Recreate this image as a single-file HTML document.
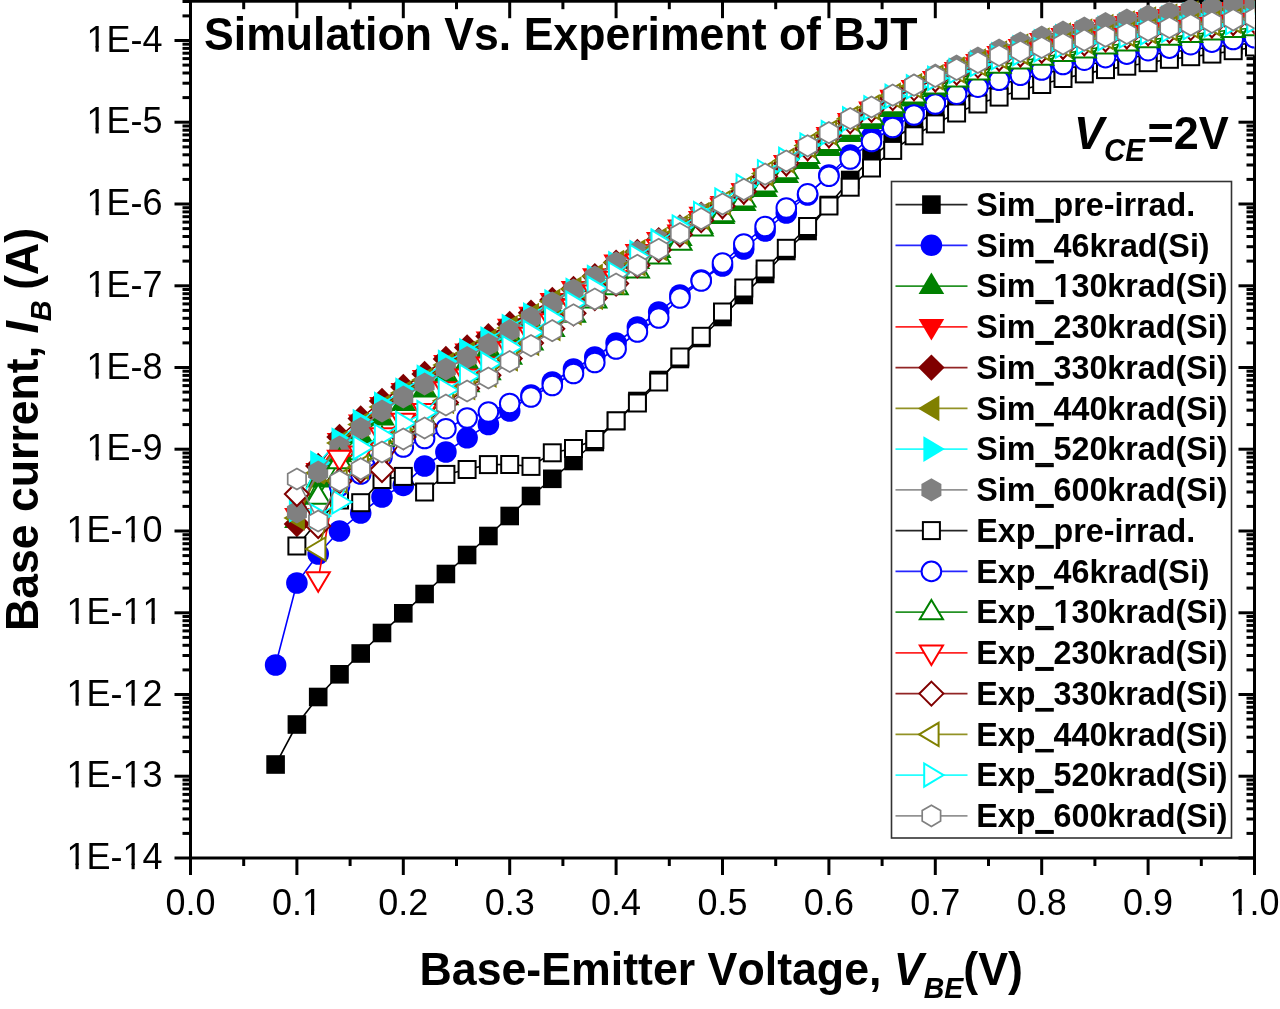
<!DOCTYPE html>
<html><head><meta charset="utf-8"><style>
html,body{margin:0;padding:0;background:#fff;}
svg{display:block;will-change:transform;-webkit-font-smoothing:antialiased;} text{font-kerning:none;}
</style></head><body>
<svg width="1280" height="1009" viewBox="0 0 1280 1009">
<rect x="0" y="0" width="1280" height="1009" fill="#fff"/>
<g stroke="#000" stroke-width="3" fill="none">
<rect x="190.5" y="1.2" width="1064.0" height="856.8"/>
<line x1="190.5" y1="858.0" x2="190.5" y2="875.0"/>
<line x1="190.5" y1="1.2" x2="190.5" y2="18.2"/>
<line x1="243.7" y1="858.0" x2="243.7" y2="866.0"/>
<line x1="243.7" y1="1.2" x2="243.7" y2="9.2"/>
<line x1="296.9" y1="858.0" x2="296.9" y2="875.0"/>
<line x1="296.9" y1="1.2" x2="296.9" y2="18.2"/>
<line x1="350.1" y1="858.0" x2="350.1" y2="866.0"/>
<line x1="350.1" y1="1.2" x2="350.1" y2="9.2"/>
<line x1="403.3" y1="858.0" x2="403.3" y2="875.0"/>
<line x1="403.3" y1="1.2" x2="403.3" y2="18.2"/>
<line x1="456.5" y1="858.0" x2="456.5" y2="866.0"/>
<line x1="456.5" y1="1.2" x2="456.5" y2="9.2"/>
<line x1="509.7" y1="858.0" x2="509.7" y2="875.0"/>
<line x1="509.7" y1="1.2" x2="509.7" y2="18.2"/>
<line x1="562.9" y1="858.0" x2="562.9" y2="866.0"/>
<line x1="562.9" y1="1.2" x2="562.9" y2="9.2"/>
<line x1="616.1" y1="858.0" x2="616.1" y2="875.0"/>
<line x1="616.1" y1="1.2" x2="616.1" y2="18.2"/>
<line x1="669.3" y1="858.0" x2="669.3" y2="866.0"/>
<line x1="669.3" y1="1.2" x2="669.3" y2="9.2"/>
<line x1="722.5" y1="858.0" x2="722.5" y2="875.0"/>
<line x1="722.5" y1="1.2" x2="722.5" y2="18.2"/>
<line x1="775.7" y1="858.0" x2="775.7" y2="866.0"/>
<line x1="775.7" y1="1.2" x2="775.7" y2="9.2"/>
<line x1="828.9" y1="858.0" x2="828.9" y2="875.0"/>
<line x1="828.9" y1="1.2" x2="828.9" y2="18.2"/>
<line x1="882.1" y1="858.0" x2="882.1" y2="866.0"/>
<line x1="882.1" y1="1.2" x2="882.1" y2="9.2"/>
<line x1="935.3" y1="858.0" x2="935.3" y2="875.0"/>
<line x1="935.3" y1="1.2" x2="935.3" y2="18.2"/>
<line x1="988.5" y1="858.0" x2="988.5" y2="866.0"/>
<line x1="988.5" y1="1.2" x2="988.5" y2="9.2"/>
<line x1="1041.7" y1="858.0" x2="1041.7" y2="875.0"/>
<line x1="1041.7" y1="1.2" x2="1041.7" y2="18.2"/>
<line x1="1094.9" y1="858.0" x2="1094.9" y2="866.0"/>
<line x1="1094.9" y1="1.2" x2="1094.9" y2="9.2"/>
<line x1="1148.1" y1="858.0" x2="1148.1" y2="875.0"/>
<line x1="1148.1" y1="1.2" x2="1148.1" y2="18.2"/>
<line x1="1201.3" y1="858.0" x2="1201.3" y2="866.0"/>
<line x1="1201.3" y1="1.2" x2="1201.3" y2="9.2"/>
<line x1="1254.5" y1="858.0" x2="1254.5" y2="875.0"/>
<line x1="1254.5" y1="1.2" x2="1254.5" y2="18.2"/>
<line x1="174.5" y1="858.0" x2="190.5" y2="858.0"/>
<line x1="1254.5" y1="858.0" x2="1238.5" y2="858.0"/>
<line x1="182.5" y1="833.4" x2="190.5" y2="833.4"/>
<line x1="1254.5" y1="833.4" x2="1246.5" y2="833.4"/>
<line x1="182.5" y1="819.0" x2="190.5" y2="819.0"/>
<line x1="1254.5" y1="819.0" x2="1246.5" y2="819.0"/>
<line x1="182.5" y1="808.8" x2="190.5" y2="808.8"/>
<line x1="1254.5" y1="808.8" x2="1246.5" y2="808.8"/>
<line x1="182.5" y1="800.9" x2="190.5" y2="800.9"/>
<line x1="1254.5" y1="800.9" x2="1246.5" y2="800.9"/>
<line x1="182.5" y1="794.4" x2="190.5" y2="794.4"/>
<line x1="1254.5" y1="794.4" x2="1246.5" y2="794.4"/>
<line x1="182.5" y1="788.9" x2="190.5" y2="788.9"/>
<line x1="1254.5" y1="788.9" x2="1246.5" y2="788.9"/>
<line x1="182.5" y1="784.2" x2="190.5" y2="784.2"/>
<line x1="1254.5" y1="784.2" x2="1246.5" y2="784.2"/>
<line x1="182.5" y1="780.0" x2="190.5" y2="780.0"/>
<line x1="1254.5" y1="780.0" x2="1246.5" y2="780.0"/>
<line x1="174.5" y1="776.2" x2="190.5" y2="776.2"/>
<line x1="1254.5" y1="776.2" x2="1238.5" y2="776.2"/>
<line x1="182.5" y1="751.6" x2="190.5" y2="751.6"/>
<line x1="1254.5" y1="751.6" x2="1246.5" y2="751.6"/>
<line x1="182.5" y1="737.2" x2="190.5" y2="737.2"/>
<line x1="1254.5" y1="737.2" x2="1246.5" y2="737.2"/>
<line x1="182.5" y1="727.0" x2="190.5" y2="727.0"/>
<line x1="1254.5" y1="727.0" x2="1246.5" y2="727.0"/>
<line x1="182.5" y1="719.1" x2="190.5" y2="719.1"/>
<line x1="1254.5" y1="719.1" x2="1246.5" y2="719.1"/>
<line x1="182.5" y1="712.6" x2="190.5" y2="712.6"/>
<line x1="1254.5" y1="712.6" x2="1246.5" y2="712.6"/>
<line x1="182.5" y1="707.2" x2="190.5" y2="707.2"/>
<line x1="1254.5" y1="707.2" x2="1246.5" y2="707.2"/>
<line x1="182.5" y1="702.4" x2="190.5" y2="702.4"/>
<line x1="1254.5" y1="702.4" x2="1246.5" y2="702.4"/>
<line x1="182.5" y1="698.2" x2="190.5" y2="698.2"/>
<line x1="1254.5" y1="698.2" x2="1246.5" y2="698.2"/>
<line x1="174.5" y1="694.5" x2="190.5" y2="694.5"/>
<line x1="1254.5" y1="694.5" x2="1238.5" y2="694.5"/>
<line x1="182.5" y1="669.9" x2="190.5" y2="669.9"/>
<line x1="1254.5" y1="669.9" x2="1246.5" y2="669.9"/>
<line x1="182.5" y1="655.5" x2="190.5" y2="655.5"/>
<line x1="1254.5" y1="655.5" x2="1246.5" y2="655.5"/>
<line x1="182.5" y1="645.3" x2="190.5" y2="645.3"/>
<line x1="1254.5" y1="645.3" x2="1246.5" y2="645.3"/>
<line x1="182.5" y1="637.4" x2="190.5" y2="637.4"/>
<line x1="1254.5" y1="637.4" x2="1246.5" y2="637.4"/>
<line x1="182.5" y1="630.9" x2="190.5" y2="630.9"/>
<line x1="1254.5" y1="630.9" x2="1246.5" y2="630.9"/>
<line x1="182.5" y1="625.4" x2="190.5" y2="625.4"/>
<line x1="1254.5" y1="625.4" x2="1246.5" y2="625.4"/>
<line x1="182.5" y1="620.7" x2="190.5" y2="620.7"/>
<line x1="1254.5" y1="620.7" x2="1246.5" y2="620.7"/>
<line x1="182.5" y1="616.5" x2="190.5" y2="616.5"/>
<line x1="1254.5" y1="616.5" x2="1246.5" y2="616.5"/>
<line x1="174.5" y1="612.8" x2="190.5" y2="612.8"/>
<line x1="1254.5" y1="612.8" x2="1238.5" y2="612.8"/>
<line x1="182.5" y1="588.1" x2="190.5" y2="588.1"/>
<line x1="1254.5" y1="588.1" x2="1246.5" y2="588.1"/>
<line x1="182.5" y1="573.7" x2="190.5" y2="573.7"/>
<line x1="1254.5" y1="573.7" x2="1246.5" y2="573.7"/>
<line x1="182.5" y1="563.5" x2="190.5" y2="563.5"/>
<line x1="1254.5" y1="563.5" x2="1246.5" y2="563.5"/>
<line x1="182.5" y1="555.6" x2="190.5" y2="555.6"/>
<line x1="1254.5" y1="555.6" x2="1246.5" y2="555.6"/>
<line x1="182.5" y1="549.1" x2="190.5" y2="549.1"/>
<line x1="1254.5" y1="549.1" x2="1246.5" y2="549.1"/>
<line x1="182.5" y1="543.7" x2="190.5" y2="543.7"/>
<line x1="1254.5" y1="543.7" x2="1246.5" y2="543.7"/>
<line x1="182.5" y1="538.9" x2="190.5" y2="538.9"/>
<line x1="1254.5" y1="538.9" x2="1246.5" y2="538.9"/>
<line x1="182.5" y1="534.7" x2="190.5" y2="534.7"/>
<line x1="1254.5" y1="534.7" x2="1246.5" y2="534.7"/>
<line x1="174.5" y1="531.0" x2="190.5" y2="531.0"/>
<line x1="1254.5" y1="531.0" x2="1238.5" y2="531.0"/>
<line x1="182.5" y1="506.4" x2="190.5" y2="506.4"/>
<line x1="1254.5" y1="506.4" x2="1246.5" y2="506.4"/>
<line x1="182.5" y1="492.0" x2="190.5" y2="492.0"/>
<line x1="1254.5" y1="492.0" x2="1246.5" y2="492.0"/>
<line x1="182.5" y1="481.8" x2="190.5" y2="481.8"/>
<line x1="1254.5" y1="481.8" x2="1246.5" y2="481.8"/>
<line x1="182.5" y1="473.9" x2="190.5" y2="473.9"/>
<line x1="1254.5" y1="473.9" x2="1246.5" y2="473.9"/>
<line x1="182.5" y1="467.4" x2="190.5" y2="467.4"/>
<line x1="1254.5" y1="467.4" x2="1246.5" y2="467.4"/>
<line x1="182.5" y1="461.9" x2="190.5" y2="461.9"/>
<line x1="1254.5" y1="461.9" x2="1246.5" y2="461.9"/>
<line x1="182.5" y1="457.2" x2="190.5" y2="457.2"/>
<line x1="1254.5" y1="457.2" x2="1246.5" y2="457.2"/>
<line x1="182.5" y1="453.0" x2="190.5" y2="453.0"/>
<line x1="1254.5" y1="453.0" x2="1246.5" y2="453.0"/>
<line x1="174.5" y1="449.2" x2="190.5" y2="449.2"/>
<line x1="1254.5" y1="449.2" x2="1238.5" y2="449.2"/>
<line x1="182.5" y1="424.6" x2="190.5" y2="424.6"/>
<line x1="1254.5" y1="424.6" x2="1246.5" y2="424.6"/>
<line x1="182.5" y1="410.2" x2="190.5" y2="410.2"/>
<line x1="1254.5" y1="410.2" x2="1246.5" y2="410.2"/>
<line x1="182.5" y1="400.0" x2="190.5" y2="400.0"/>
<line x1="1254.5" y1="400.0" x2="1246.5" y2="400.0"/>
<line x1="182.5" y1="392.1" x2="190.5" y2="392.1"/>
<line x1="1254.5" y1="392.1" x2="1246.5" y2="392.1"/>
<line x1="182.5" y1="385.6" x2="190.5" y2="385.6"/>
<line x1="1254.5" y1="385.6" x2="1246.5" y2="385.6"/>
<line x1="182.5" y1="380.2" x2="190.5" y2="380.2"/>
<line x1="1254.5" y1="380.2" x2="1246.5" y2="380.2"/>
<line x1="182.5" y1="375.4" x2="190.5" y2="375.4"/>
<line x1="1254.5" y1="375.4" x2="1246.5" y2="375.4"/>
<line x1="182.5" y1="371.2" x2="190.5" y2="371.2"/>
<line x1="1254.5" y1="371.2" x2="1246.5" y2="371.2"/>
<line x1="174.5" y1="367.5" x2="190.5" y2="367.5"/>
<line x1="1254.5" y1="367.5" x2="1238.5" y2="367.5"/>
<line x1="182.5" y1="342.9" x2="190.5" y2="342.9"/>
<line x1="1254.5" y1="342.9" x2="1246.5" y2="342.9"/>
<line x1="182.5" y1="328.5" x2="190.5" y2="328.5"/>
<line x1="1254.5" y1="328.5" x2="1246.5" y2="328.5"/>
<line x1="182.5" y1="318.3" x2="190.5" y2="318.3"/>
<line x1="1254.5" y1="318.3" x2="1246.5" y2="318.3"/>
<line x1="182.5" y1="310.4" x2="190.5" y2="310.4"/>
<line x1="1254.5" y1="310.4" x2="1246.5" y2="310.4"/>
<line x1="182.5" y1="303.9" x2="190.5" y2="303.9"/>
<line x1="1254.5" y1="303.9" x2="1246.5" y2="303.9"/>
<line x1="182.5" y1="298.4" x2="190.5" y2="298.4"/>
<line x1="1254.5" y1="298.4" x2="1246.5" y2="298.4"/>
<line x1="182.5" y1="293.7" x2="190.5" y2="293.7"/>
<line x1="1254.5" y1="293.7" x2="1246.5" y2="293.7"/>
<line x1="182.5" y1="289.5" x2="190.5" y2="289.5"/>
<line x1="1254.5" y1="289.5" x2="1246.5" y2="289.5"/>
<line x1="174.5" y1="285.8" x2="190.5" y2="285.8"/>
<line x1="1254.5" y1="285.8" x2="1238.5" y2="285.8"/>
<line x1="182.5" y1="261.1" x2="190.5" y2="261.1"/>
<line x1="1254.5" y1="261.1" x2="1246.5" y2="261.1"/>
<line x1="182.5" y1="246.7" x2="190.5" y2="246.7"/>
<line x1="1254.5" y1="246.7" x2="1246.5" y2="246.7"/>
<line x1="182.5" y1="236.5" x2="190.5" y2="236.5"/>
<line x1="1254.5" y1="236.5" x2="1246.5" y2="236.5"/>
<line x1="182.5" y1="228.6" x2="190.5" y2="228.6"/>
<line x1="1254.5" y1="228.6" x2="1246.5" y2="228.6"/>
<line x1="182.5" y1="222.1" x2="190.5" y2="222.1"/>
<line x1="1254.5" y1="222.1" x2="1246.5" y2="222.1"/>
<line x1="182.5" y1="216.7" x2="190.5" y2="216.7"/>
<line x1="1254.5" y1="216.7" x2="1246.5" y2="216.7"/>
<line x1="182.5" y1="211.9" x2="190.5" y2="211.9"/>
<line x1="1254.5" y1="211.9" x2="1246.5" y2="211.9"/>
<line x1="182.5" y1="207.7" x2="190.5" y2="207.7"/>
<line x1="1254.5" y1="207.7" x2="1246.5" y2="207.7"/>
<line x1="174.5" y1="204.0" x2="190.5" y2="204.0"/>
<line x1="1254.5" y1="204.0" x2="1238.5" y2="204.0"/>
<line x1="182.5" y1="179.4" x2="190.5" y2="179.4"/>
<line x1="1254.5" y1="179.4" x2="1246.5" y2="179.4"/>
<line x1="182.5" y1="165.0" x2="190.5" y2="165.0"/>
<line x1="1254.5" y1="165.0" x2="1246.5" y2="165.0"/>
<line x1="182.5" y1="154.8" x2="190.5" y2="154.8"/>
<line x1="1254.5" y1="154.8" x2="1246.5" y2="154.8"/>
<line x1="182.5" y1="146.9" x2="190.5" y2="146.9"/>
<line x1="1254.5" y1="146.9" x2="1246.5" y2="146.9"/>
<line x1="182.5" y1="140.4" x2="190.5" y2="140.4"/>
<line x1="1254.5" y1="140.4" x2="1246.5" y2="140.4"/>
<line x1="182.5" y1="134.9" x2="190.5" y2="134.9"/>
<line x1="1254.5" y1="134.9" x2="1246.5" y2="134.9"/>
<line x1="182.5" y1="130.2" x2="190.5" y2="130.2"/>
<line x1="1254.5" y1="130.2" x2="1246.5" y2="130.2"/>
<line x1="182.5" y1="126.0" x2="190.5" y2="126.0"/>
<line x1="1254.5" y1="126.0" x2="1246.5" y2="126.0"/>
<line x1="174.5" y1="122.2" x2="190.5" y2="122.2"/>
<line x1="1254.5" y1="122.2" x2="1238.5" y2="122.2"/>
<line x1="182.5" y1="97.6" x2="190.5" y2="97.6"/>
<line x1="1254.5" y1="97.6" x2="1246.5" y2="97.6"/>
<line x1="182.5" y1="83.2" x2="190.5" y2="83.2"/>
<line x1="1254.5" y1="83.2" x2="1246.5" y2="83.2"/>
<line x1="182.5" y1="73.0" x2="190.5" y2="73.0"/>
<line x1="1254.5" y1="73.0" x2="1246.5" y2="73.0"/>
<line x1="182.5" y1="65.1" x2="190.5" y2="65.1"/>
<line x1="1254.5" y1="65.1" x2="1246.5" y2="65.1"/>
<line x1="182.5" y1="58.6" x2="190.5" y2="58.6"/>
<line x1="1254.5" y1="58.6" x2="1246.5" y2="58.6"/>
<line x1="182.5" y1="53.2" x2="190.5" y2="53.2"/>
<line x1="1254.5" y1="53.2" x2="1246.5" y2="53.2"/>
<line x1="182.5" y1="48.4" x2="190.5" y2="48.4"/>
<line x1="1254.5" y1="48.4" x2="1246.5" y2="48.4"/>
<line x1="182.5" y1="44.2" x2="190.5" y2="44.2"/>
<line x1="1254.5" y1="44.2" x2="1246.5" y2="44.2"/>
<line x1="174.5" y1="40.5" x2="190.5" y2="40.5"/>
<line x1="1254.5" y1="40.5" x2="1238.5" y2="40.5"/>
<line x1="182.5" y1="15.9" x2="190.5" y2="15.9"/>
<line x1="1254.5" y1="15.9" x2="1246.5" y2="15.9"/>
<line x1="182.5" y1="1.5" x2="190.5" y2="1.5"/>
<line x1="1254.5" y1="1.5" x2="1246.5" y2="1.5"/>
</g>
<defs><clipPath id="pc"><rect x="0" y="-20" width="1254.5" height="878"/></clipPath></defs>
<g clip-path="url(#pc)">
<polyline fill="none" stroke="#000000" stroke-width="1.6" points="275.6,764.5 296.9,724.5 318.2,697.0 339.5,674.3 360.7,653.5 382.0,633.0 403.3,613.3 424.6,594.0 445.9,574.0 467.1,555.0 488.4,536.0 509.7,516.0 531.0,496.0 552.3,478.8 573.5,461.0 594.8,442.0 616.1,421.0 637.4,401.0 658.7,380.0 679.9,359.0 701.2,338.0 722.5,317.0 743.8,295.0 765.1,274.0 786.3,251.0 807.6,231.0 828.9,205.0 850.2,180.0 871.5,158.0 892.7,140.0 914.0,125.0 935.3,112.0 956.6,101.0 977.9,92.0 999.1,85.0 1020.4,79.0 1041.7,74.0 1063.0,69.5 1084.3,65.0 1105.5,61.7 1126.8,58.3 1148.1,55.0 1169.4,52.3 1190.7,49.7 1211.9,47.0 1233.2,45.0 1254.5,43.0"/>
<rect x="266.3" y="755.2" width="18.6" height="18.6" fill="#000000"/>
<rect x="287.6" y="715.2" width="18.6" height="18.6" fill="#000000"/>
<rect x="308.9" y="687.7" width="18.6" height="18.6" fill="#000000"/>
<rect x="330.2" y="665.0" width="18.6" height="18.6" fill="#000000"/>
<rect x="351.4" y="644.2" width="18.6" height="18.6" fill="#000000"/>
<rect x="372.7" y="623.7" width="18.6" height="18.6" fill="#000000"/>
<rect x="394.0" y="604.0" width="18.6" height="18.6" fill="#000000"/>
<rect x="415.3" y="584.7" width="18.6" height="18.6" fill="#000000"/>
<rect x="436.6" y="564.7" width="18.6" height="18.6" fill="#000000"/>
<rect x="457.8" y="545.7" width="18.6" height="18.6" fill="#000000"/>
<rect x="479.1" y="526.7" width="18.6" height="18.6" fill="#000000"/>
<rect x="500.4" y="506.7" width="18.6" height="18.6" fill="#000000"/>
<rect x="521.7" y="486.7" width="18.6" height="18.6" fill="#000000"/>
<rect x="543.0" y="469.5" width="18.6" height="18.6" fill="#000000"/>
<rect x="564.2" y="451.7" width="18.6" height="18.6" fill="#000000"/>
<rect x="585.5" y="432.7" width="18.6" height="18.6" fill="#000000"/>
<rect x="606.8" y="411.7" width="18.6" height="18.6" fill="#000000"/>
<rect x="628.1" y="391.7" width="18.6" height="18.6" fill="#000000"/>
<rect x="649.4" y="370.7" width="18.6" height="18.6" fill="#000000"/>
<rect x="670.6" y="349.7" width="18.6" height="18.6" fill="#000000"/>
<rect x="691.9" y="328.7" width="18.6" height="18.6" fill="#000000"/>
<rect x="713.2" y="307.7" width="18.6" height="18.6" fill="#000000"/>
<rect x="734.5" y="285.7" width="18.6" height="18.6" fill="#000000"/>
<rect x="755.8" y="264.7" width="18.6" height="18.6" fill="#000000"/>
<rect x="777.0" y="241.7" width="18.6" height="18.6" fill="#000000"/>
<rect x="798.3" y="221.7" width="18.6" height="18.6" fill="#000000"/>
<rect x="819.6" y="195.7" width="18.6" height="18.6" fill="#000000"/>
<rect x="840.9" y="170.7" width="18.6" height="18.6" fill="#000000"/>
<rect x="862.2" y="148.7" width="18.6" height="18.6" fill="#000000"/>
<rect x="883.4" y="130.7" width="18.6" height="18.6" fill="#000000"/>
<rect x="904.7" y="115.7" width="18.6" height="18.6" fill="#000000"/>
<rect x="926.0" y="102.7" width="18.6" height="18.6" fill="#000000"/>
<rect x="947.3" y="91.7" width="18.6" height="18.6" fill="#000000"/>
<rect x="968.6" y="82.7" width="18.6" height="18.6" fill="#000000"/>
<rect x="989.8" y="75.7" width="18.6" height="18.6" fill="#000000"/>
<rect x="1011.1" y="69.7" width="18.6" height="18.6" fill="#000000"/>
<rect x="1032.4" y="64.7" width="18.6" height="18.6" fill="#000000"/>
<rect x="1053.7" y="60.2" width="18.6" height="18.6" fill="#000000"/>
<rect x="1075.0" y="55.7" width="18.6" height="18.6" fill="#000000"/>
<rect x="1096.2" y="52.4" width="18.6" height="18.6" fill="#000000"/>
<rect x="1117.5" y="49.0" width="18.6" height="18.6" fill="#000000"/>
<rect x="1138.8" y="45.7" width="18.6" height="18.6" fill="#000000"/>
<rect x="1160.1" y="43.0" width="18.6" height="18.6" fill="#000000"/>
<rect x="1181.4" y="40.4" width="18.6" height="18.6" fill="#000000"/>
<rect x="1202.6" y="37.7" width="18.6" height="18.6" fill="#000000"/>
<rect x="1223.9" y="35.7" width="18.6" height="18.6" fill="#000000"/>
<rect x="1245.2" y="33.7" width="18.6" height="18.6" fill="#000000"/>
<polyline fill="none" stroke="#0000ff" stroke-width="1.6" points="275.6,665.0 296.9,583.0 318.2,554.0 339.5,531.0 360.7,513.0 382.0,497.0 403.3,485.4 424.6,466.0 445.9,452.0 467.1,437.8 488.4,424.5 509.7,411.0 531.0,395.0 552.3,382.0 573.5,369.0 594.8,357.0 616.1,343.0 637.4,327.0 658.7,312.0 679.9,295.0 701.2,280.0 722.5,266.0 743.8,249.0 765.1,231.0 786.3,213.0 807.6,195.0 828.9,175.0 850.2,155.0 871.5,137.0 892.7,123.0 914.0,112.0 935.3,102.0 956.6,91.0 977.9,84.0 999.1,78.0 1020.4,72.0 1041.7,67.0 1063.0,62.5 1084.3,58.0 1105.5,54.7 1126.8,51.3 1148.1,48.0 1169.4,45.3 1190.7,42.7 1211.9,40.0 1233.2,37.5 1254.5,35.0"/>
<circle cx="275.6" cy="665.0" r="10.8" fill="#0000ff"/>
<circle cx="296.9" cy="583.0" r="10.8" fill="#0000ff"/>
<circle cx="318.2" cy="554.0" r="10.8" fill="#0000ff"/>
<circle cx="339.5" cy="531.0" r="10.8" fill="#0000ff"/>
<circle cx="360.7" cy="513.0" r="10.8" fill="#0000ff"/>
<circle cx="382.0" cy="497.0" r="10.8" fill="#0000ff"/>
<circle cx="403.3" cy="485.4" r="10.8" fill="#0000ff"/>
<circle cx="424.6" cy="466.0" r="10.8" fill="#0000ff"/>
<circle cx="445.9" cy="452.0" r="10.8" fill="#0000ff"/>
<circle cx="467.1" cy="437.8" r="10.8" fill="#0000ff"/>
<circle cx="488.4" cy="424.5" r="10.8" fill="#0000ff"/>
<circle cx="509.7" cy="411.0" r="10.8" fill="#0000ff"/>
<circle cx="531.0" cy="395.0" r="10.8" fill="#0000ff"/>
<circle cx="552.3" cy="382.0" r="10.8" fill="#0000ff"/>
<circle cx="573.5" cy="369.0" r="10.8" fill="#0000ff"/>
<circle cx="594.8" cy="357.0" r="10.8" fill="#0000ff"/>
<circle cx="616.1" cy="343.0" r="10.8" fill="#0000ff"/>
<circle cx="637.4" cy="327.0" r="10.8" fill="#0000ff"/>
<circle cx="658.7" cy="312.0" r="10.8" fill="#0000ff"/>
<circle cx="679.9" cy="295.0" r="10.8" fill="#0000ff"/>
<circle cx="701.2" cy="280.0" r="10.8" fill="#0000ff"/>
<circle cx="722.5" cy="266.0" r="10.8" fill="#0000ff"/>
<circle cx="743.8" cy="249.0" r="10.8" fill="#0000ff"/>
<circle cx="765.1" cy="231.0" r="10.8" fill="#0000ff"/>
<circle cx="786.3" cy="213.0" r="10.8" fill="#0000ff"/>
<circle cx="807.6" cy="195.0" r="10.8" fill="#0000ff"/>
<circle cx="828.9" cy="175.0" r="10.8" fill="#0000ff"/>
<circle cx="850.2" cy="155.0" r="10.8" fill="#0000ff"/>
<circle cx="871.5" cy="137.0" r="10.8" fill="#0000ff"/>
<circle cx="892.7" cy="123.0" r="10.8" fill="#0000ff"/>
<circle cx="914.0" cy="112.0" r="10.8" fill="#0000ff"/>
<circle cx="935.3" cy="102.0" r="10.8" fill="#0000ff"/>
<circle cx="956.6" cy="91.0" r="10.8" fill="#0000ff"/>
<circle cx="977.9" cy="84.0" r="10.8" fill="#0000ff"/>
<circle cx="999.1" cy="78.0" r="10.8" fill="#0000ff"/>
<circle cx="1020.4" cy="72.0" r="10.8" fill="#0000ff"/>
<circle cx="1041.7" cy="67.0" r="10.8" fill="#0000ff"/>
<circle cx="1063.0" cy="62.5" r="10.8" fill="#0000ff"/>
<circle cx="1084.3" cy="58.0" r="10.8" fill="#0000ff"/>
<circle cx="1105.5" cy="54.7" r="10.8" fill="#0000ff"/>
<circle cx="1126.8" cy="51.3" r="10.8" fill="#0000ff"/>
<circle cx="1148.1" cy="48.0" r="10.8" fill="#0000ff"/>
<circle cx="1169.4" cy="45.3" r="10.8" fill="#0000ff"/>
<circle cx="1190.7" cy="42.7" r="10.8" fill="#0000ff"/>
<circle cx="1211.9" cy="40.0" r="10.8" fill="#0000ff"/>
<circle cx="1233.2" cy="37.5" r="10.8" fill="#0000ff"/>
<circle cx="1254.5" cy="35.0" r="10.8" fill="#0000ff"/>
<polyline fill="none" stroke="#008000" stroke-width="1.6" points="296.9,520.0 318.2,479.6 339.5,454.2 360.7,435.3 382.0,417.4 403.3,403.0 424.6,389.6 445.9,374.2 467.1,362.3 488.4,349.0 509.7,334.7 531.0,322.6 552.3,308.6 573.5,296.4 594.8,284.2 616.1,271.0 637.4,261.0 658.7,250.0 679.9,238.0 701.2,226.0 722.5,216.0 743.8,203.0 765.1,189.0 786.3,175.0 807.6,161.0 828.9,148.0 850.2,134.0 871.5,121.0 892.7,109.0 914.0,98.5 935.3,89.0 956.6,81.7 977.9,75.3 999.1,69.0 1020.4,64.2 1041.7,60.5 1063.0,56.2 1084.3,52.9 1105.5,49.1 1126.8,46.3 1148.1,43.0 1169.4,40.0 1190.7,37.0 1211.9,35.0 1233.2,33.0 1254.5,31.0"/>
<polygon points="296.9,506.5 309.7,528.0 284.1,528.0" fill="#008000"/>
<polygon points="318.2,466.1 331.0,487.6 305.4,487.6" fill="#008000"/>
<polygon points="339.5,440.7 352.3,462.2 326.7,462.2" fill="#008000"/>
<polygon points="360.7,421.8 373.5,443.3 347.9,443.3" fill="#008000"/>
<polygon points="382.0,403.9 394.8,425.4 369.2,425.4" fill="#008000"/>
<polygon points="403.3,389.5 416.1,411.0 390.5,411.0" fill="#008000"/>
<polygon points="424.6,376.1 437.4,397.6 411.8,397.6" fill="#008000"/>
<polygon points="445.9,360.7 458.7,382.2 433.1,382.2" fill="#008000"/>
<polygon points="467.1,348.8 479.9,370.3 454.3,370.3" fill="#008000"/>
<polygon points="488.4,335.5 501.2,357.0 475.6,357.0" fill="#008000"/>
<polygon points="509.7,321.2 522.5,342.7 496.9,342.7" fill="#008000"/>
<polygon points="531.0,309.1 543.8,330.6 518.2,330.6" fill="#008000"/>
<polygon points="552.3,295.1 565.1,316.6 539.5,316.6" fill="#008000"/>
<polygon points="573.5,282.9 586.3,304.4 560.7,304.4" fill="#008000"/>
<polygon points="594.8,270.7 607.6,292.2 582.0,292.2" fill="#008000"/>
<polygon points="616.1,257.5 628.9,279.0 603.3,279.0" fill="#008000"/>
<polygon points="637.4,247.5 650.2,269.0 624.6,269.0" fill="#008000"/>
<polygon points="658.7,236.5 671.5,258.0 645.9,258.0" fill="#008000"/>
<polygon points="679.9,224.5 692.7,246.0 667.1,246.0" fill="#008000"/>
<polygon points="701.2,212.5 714.0,234.0 688.4,234.0" fill="#008000"/>
<polygon points="722.5,202.5 735.3,224.0 709.7,224.0" fill="#008000"/>
<polygon points="743.8,189.5 756.6,211.0 731.0,211.0" fill="#008000"/>
<polygon points="765.1,175.5 777.9,197.0 752.3,197.0" fill="#008000"/>
<polygon points="786.3,161.5 799.1,183.0 773.5,183.0" fill="#008000"/>
<polygon points="807.6,147.5 820.4,169.0 794.8,169.0" fill="#008000"/>
<polygon points="828.9,134.5 841.7,156.0 816.1,156.0" fill="#008000"/>
<polygon points="850.2,120.5 863.0,142.0 837.4,142.0" fill="#008000"/>
<polygon points="871.5,107.5 884.3,129.0 858.7,129.0" fill="#008000"/>
<polygon points="892.7,95.5 905.5,117.0 879.9,117.0" fill="#008000"/>
<polygon points="914.0,85.0 926.8,106.5 901.2,106.5" fill="#008000"/>
<polygon points="935.3,75.5 948.1,97.0 922.5,97.0" fill="#008000"/>
<polygon points="956.6,68.2 969.4,89.7 943.8,89.7" fill="#008000"/>
<polygon points="977.9,61.8 990.7,83.3 965.1,83.3" fill="#008000"/>
<polygon points="999.1,55.5 1011.9,77.0 986.3,77.0" fill="#008000"/>
<polygon points="1020.4,50.8 1033.2,72.2 1007.6,72.2" fill="#008000"/>
<polygon points="1041.7,47.0 1054.5,68.5 1028.9,68.5" fill="#008000"/>
<polygon points="1063.0,42.7 1075.8,64.2 1050.2,64.2" fill="#008000"/>
<polygon points="1084.3,39.4 1097.1,60.9 1071.5,60.9" fill="#008000"/>
<polygon points="1105.5,35.6 1118.3,57.1 1092.7,57.1" fill="#008000"/>
<polygon points="1126.8,32.8 1139.6,54.3 1114.0,54.3" fill="#008000"/>
<polygon points="1148.1,29.5 1160.9,51.0 1135.3,51.0" fill="#008000"/>
<polygon points="1169.4,26.5 1182.2,48.0 1156.6,48.0" fill="#008000"/>
<polygon points="1190.7,23.5 1203.5,45.0 1177.9,45.0" fill="#008000"/>
<polygon points="1211.9,21.5 1224.7,43.0 1199.1,43.0" fill="#008000"/>
<polygon points="1233.2,19.5 1246.0,41.0 1220.4,41.0" fill="#008000"/>
<polygon points="1254.5,17.5 1267.3,39.0 1241.7,39.0" fill="#008000"/>
<polyline fill="none" stroke="#ff0000" stroke-width="1.6" points="296.9,516.0 318.2,471.0 339.5,441.0 360.7,422.5 382.0,405.0 403.3,391.0 424.6,378.0 445.9,363.0 467.1,351.5 488.4,339.6 509.7,326.7 531.0,314.8 552.3,301.0 573.5,289.0 594.8,276.3 616.1,262.6 637.4,251.9 658.7,240.1 679.9,227.4 701.2,214.7 722.5,204.0 743.8,191.2 765.1,177.4 786.3,163.6 807.6,149.8 828.9,137.0 850.2,123.4 871.5,110.8 892.7,99.2 914.0,88.6 935.3,79.0 956.6,70.0 977.9,62.0 999.1,54.0 1020.4,47.0 1041.7,41.0 1063.0,36.0 1084.3,32.0 1105.5,27.5 1126.8,24.0 1148.1,20.0 1169.4,17.0 1190.7,14.0 1211.9,12.0 1233.2,10.0 1254.5,8.0"/>
<polygon points="296.9,529.5 309.7,508.0 284.1,508.0" fill="#ff0000"/>
<polygon points="318.2,484.5 331.0,463.0 305.4,463.0" fill="#ff0000"/>
<polygon points="339.5,454.5 352.3,433.0 326.7,433.0" fill="#ff0000"/>
<polygon points="360.7,436.0 373.5,414.5 347.9,414.5" fill="#ff0000"/>
<polygon points="382.0,418.5 394.8,397.0 369.2,397.0" fill="#ff0000"/>
<polygon points="403.3,404.5 416.1,383.0 390.5,383.0" fill="#ff0000"/>
<polygon points="424.6,391.5 437.4,370.0 411.8,370.0" fill="#ff0000"/>
<polygon points="445.9,376.5 458.7,355.0 433.1,355.0" fill="#ff0000"/>
<polygon points="467.1,365.0 479.9,343.5 454.3,343.5" fill="#ff0000"/>
<polygon points="488.4,353.1 501.2,331.6 475.6,331.6" fill="#ff0000"/>
<polygon points="509.7,340.2 522.5,318.7 496.9,318.7" fill="#ff0000"/>
<polygon points="531.0,328.3 543.8,306.8 518.2,306.8" fill="#ff0000"/>
<polygon points="552.3,314.5 565.1,293.0 539.5,293.0" fill="#ff0000"/>
<polygon points="573.5,302.5 586.3,281.0 560.7,281.0" fill="#ff0000"/>
<polygon points="594.8,289.8 607.6,268.3 582.0,268.3" fill="#ff0000"/>
<polygon points="616.1,276.1 628.9,254.6 603.3,254.6" fill="#ff0000"/>
<polygon points="637.4,265.4 650.2,243.9 624.6,243.9" fill="#ff0000"/>
<polygon points="658.7,253.6 671.5,232.1 645.9,232.1" fill="#ff0000"/>
<polygon points="679.9,240.9 692.7,219.4 667.1,219.4" fill="#ff0000"/>
<polygon points="701.2,228.2 714.0,206.7 688.4,206.7" fill="#ff0000"/>
<polygon points="722.5,217.5 735.3,196.0 709.7,196.0" fill="#ff0000"/>
<polygon points="743.8,204.7 756.6,183.2 731.0,183.2" fill="#ff0000"/>
<polygon points="765.1,190.9 777.9,169.4 752.3,169.4" fill="#ff0000"/>
<polygon points="786.3,177.1 799.1,155.6 773.5,155.6" fill="#ff0000"/>
<polygon points="807.6,163.3 820.4,141.8 794.8,141.8" fill="#ff0000"/>
<polygon points="828.9,150.5 841.7,129.0 816.1,129.0" fill="#ff0000"/>
<polygon points="850.2,136.9 863.0,115.4 837.4,115.4" fill="#ff0000"/>
<polygon points="871.5,124.3 884.3,102.8 858.7,102.8" fill="#ff0000"/>
<polygon points="892.7,112.7 905.5,91.2 879.9,91.2" fill="#ff0000"/>
<polygon points="914.0,102.1 926.8,80.6 901.2,80.6" fill="#ff0000"/>
<polygon points="935.3,92.5 948.1,71.0 922.5,71.0" fill="#ff0000"/>
<polygon points="956.6,83.5 969.4,62.0 943.8,62.0" fill="#ff0000"/>
<polygon points="977.9,75.5 990.7,54.0 965.1,54.0" fill="#ff0000"/>
<polygon points="999.1,67.5 1011.9,46.0 986.3,46.0" fill="#ff0000"/>
<polygon points="1020.4,60.5 1033.2,39.0 1007.6,39.0" fill="#ff0000"/>
<polygon points="1041.7,54.5 1054.5,33.0 1028.9,33.0" fill="#ff0000"/>
<polygon points="1063.0,49.5 1075.8,28.0 1050.2,28.0" fill="#ff0000"/>
<polygon points="1084.3,45.5 1097.1,24.0 1071.5,24.0" fill="#ff0000"/>
<polygon points="1105.5,41.0 1118.3,19.5 1092.7,19.5" fill="#ff0000"/>
<polygon points="1126.8,37.5 1139.6,16.0 1114.0,16.0" fill="#ff0000"/>
<polygon points="1148.1,33.5 1160.9,12.0 1135.3,12.0" fill="#ff0000"/>
<polygon points="1169.4,30.5 1182.2,9.0 1156.6,9.0" fill="#ff0000"/>
<polygon points="1190.7,27.5 1203.5,6.0 1177.9,6.0" fill="#ff0000"/>
<polygon points="1211.9,25.5 1224.7,4.0 1199.1,4.0" fill="#ff0000"/>
<polygon points="1233.2,23.5 1246.0,2.0 1220.4,2.0" fill="#ff0000"/>
<polygon points="1254.5,21.5 1267.3,0.0 1241.7,0.0" fill="#ff0000"/>
<polyline fill="none" stroke="#800000" stroke-width="1.6" points="296.9,524.0 318.2,466.0 339.5,437.0 360.7,418.5 382.0,401.0 403.3,387.0 424.6,374.0 445.9,359.0 467.1,347.5 488.4,336.3 509.7,324.0 531.0,312.8 552.3,300.0 573.5,289.0 594.8,276.3 616.1,262.6 637.4,251.9 658.7,240.1 679.9,227.4 701.2,214.7 722.5,204.0 743.8,191.2 765.1,177.4 786.3,163.6 807.6,149.8 828.9,137.0 850.2,123.4 871.5,110.8 892.7,99.2 914.0,88.6 935.3,79.0 956.6,70.0 977.9,62.0 999.1,54.0 1020.4,47.0 1041.7,41.0 1063.0,36.0 1084.3,32.0 1105.5,27.5 1126.8,24.0 1148.1,20.0 1169.4,17.0 1190.7,14.0 1211.9,12.0 1233.2,10.0 1254.5,8.0"/>
<polygon points="296.9,510.8 310.1,524.0 296.9,537.2 283.7,524.0" fill="#800000"/>
<polygon points="318.2,452.8 331.4,466.0 318.2,479.2 305.0,466.0" fill="#800000"/>
<polygon points="339.5,423.8 352.7,437.0 339.5,450.2 326.3,437.0" fill="#800000"/>
<polygon points="360.7,405.3 373.9,418.5 360.7,431.7 347.5,418.5" fill="#800000"/>
<polygon points="382.0,387.8 395.2,401.0 382.0,414.2 368.8,401.0" fill="#800000"/>
<polygon points="403.3,373.8 416.5,387.0 403.3,400.2 390.1,387.0" fill="#800000"/>
<polygon points="424.6,360.8 437.8,374.0 424.6,387.2 411.4,374.0" fill="#800000"/>
<polygon points="445.9,345.8 459.1,359.0 445.9,372.2 432.7,359.0" fill="#800000"/>
<polygon points="467.1,334.3 480.3,347.5 467.1,360.7 453.9,347.5" fill="#800000"/>
<polygon points="488.4,323.1 501.6,336.3 488.4,349.5 475.2,336.3" fill="#800000"/>
<polygon points="509.7,310.8 522.9,324.0 509.7,337.2 496.5,324.0" fill="#800000"/>
<polygon points="531.0,299.6 544.2,312.8 531.0,326.0 517.8,312.8" fill="#800000"/>
<polygon points="552.3,286.8 565.5,300.0 552.3,313.2 539.1,300.0" fill="#800000"/>
<polygon points="573.5,275.8 586.7,289.0 573.5,302.2 560.3,289.0" fill="#800000"/>
<polygon points="594.8,263.1 608.0,276.3 594.8,289.5 581.6,276.3" fill="#800000"/>
<polygon points="616.1,249.4 629.3,262.6 616.1,275.8 602.9,262.6" fill="#800000"/>
<polygon points="637.4,238.7 650.6,251.9 637.4,265.1 624.2,251.9" fill="#800000"/>
<polygon points="658.7,226.9 671.9,240.1 658.7,253.3 645.5,240.1" fill="#800000"/>
<polygon points="679.9,214.2 693.1,227.4 679.9,240.6 666.7,227.4" fill="#800000"/>
<polygon points="701.2,201.5 714.4,214.7 701.2,227.9 688.0,214.7" fill="#800000"/>
<polygon points="722.5,190.8 735.7,204.0 722.5,217.2 709.3,204.0" fill="#800000"/>
<polygon points="743.8,178.0 757.0,191.2 743.8,204.4 730.6,191.2" fill="#800000"/>
<polygon points="765.1,164.2 778.3,177.4 765.1,190.6 751.9,177.4" fill="#800000"/>
<polygon points="786.3,150.4 799.5,163.6 786.3,176.8 773.1,163.6" fill="#800000"/>
<polygon points="807.6,136.6 820.8,149.8 807.6,163.0 794.4,149.8" fill="#800000"/>
<polygon points="828.9,123.8 842.1,137.0 828.9,150.2 815.7,137.0" fill="#800000"/>
<polygon points="850.2,110.2 863.4,123.4 850.2,136.6 837.0,123.4" fill="#800000"/>
<polygon points="871.5,97.6 884.7,110.8 871.5,124.0 858.3,110.8" fill="#800000"/>
<polygon points="892.7,86.0 905.9,99.2 892.7,112.4 879.5,99.2" fill="#800000"/>
<polygon points="914.0,75.4 927.2,88.6 914.0,101.8 900.8,88.6" fill="#800000"/>
<polygon points="935.3,65.8 948.5,79.0 935.3,92.2 922.1,79.0" fill="#800000"/>
<polygon points="956.6,56.8 969.8,70.0 956.6,83.2 943.4,70.0" fill="#800000"/>
<polygon points="977.9,48.8 991.1,62.0 977.9,75.2 964.7,62.0" fill="#800000"/>
<polygon points="999.1,40.8 1012.3,54.0 999.1,67.2 985.9,54.0" fill="#800000"/>
<polygon points="1020.4,33.8 1033.6,47.0 1020.4,60.2 1007.2,47.0" fill="#800000"/>
<polygon points="1041.7,27.8 1054.9,41.0 1041.7,54.2 1028.5,41.0" fill="#800000"/>
<polygon points="1063.0,22.8 1076.2,36.0 1063.0,49.2 1049.8,36.0" fill="#800000"/>
<polygon points="1084.3,18.8 1097.5,32.0 1084.3,45.2 1071.1,32.0" fill="#800000"/>
<polygon points="1105.5,14.3 1118.7,27.5 1105.5,40.7 1092.3,27.5" fill="#800000"/>
<polygon points="1126.8,10.8 1140.0,24.0 1126.8,37.2 1113.6,24.0" fill="#800000"/>
<polygon points="1148.1,6.8 1161.3,20.0 1148.1,33.2 1134.9,20.0" fill="#800000"/>
<polygon points="1169.4,3.8 1182.6,17.0 1169.4,30.2 1156.2,17.0" fill="#800000"/>
<polygon points="1190.7,0.8 1203.9,14.0 1190.7,27.2 1177.5,14.0" fill="#800000"/>
<polygon points="1211.9,-1.2 1225.1,12.0 1211.9,25.2 1198.7,12.0" fill="#800000"/>
<polygon points="1233.2,-3.2 1246.4,10.0 1233.2,23.2 1220.0,10.0" fill="#800000"/>
<polygon points="1254.5,-5.2 1267.7,8.0 1254.5,21.2 1241.3,8.0" fill="#800000"/>
<polyline fill="none" stroke="#808000" stroke-width="1.6" points="296.9,518.0 318.2,473.0 339.5,443.0 360.7,424.5 382.0,407.0 403.3,393.0 424.6,380.0 445.9,365.0 467.1,353.5 488.4,341.2 509.7,327.9 531.0,315.6 552.3,301.4 573.5,289.0 594.8,276.3 616.1,262.6 637.4,251.9 658.7,240.1 679.9,227.4 701.2,214.7 722.5,204.0 743.8,191.2 765.1,177.4 786.3,163.6 807.6,149.8 828.9,137.0 850.2,123.2 871.5,110.4 892.7,98.6 914.0,87.8 935.3,78.0 956.6,69.0 977.9,61.0 999.1,53.0 1020.4,46.0 1041.7,40.0 1063.0,35.0 1084.3,31.0 1105.5,26.5 1126.8,23.0 1148.1,19.0 1169.4,16.0 1190.7,13.0 1211.9,11.0 1233.2,9.0 1254.5,7.0"/>
<polygon points="283.4,518.0 304.9,505.2 304.9,530.8" fill="#808000"/>
<polygon points="304.7,473.0 326.2,460.2 326.2,485.8" fill="#808000"/>
<polygon points="326.0,443.0 347.5,430.2 347.5,455.8" fill="#808000"/>
<polygon points="347.2,424.5 368.7,411.7 368.7,437.3" fill="#808000"/>
<polygon points="368.5,407.0 390.0,394.2 390.0,419.8" fill="#808000"/>
<polygon points="389.8,393.0 411.3,380.2 411.3,405.8" fill="#808000"/>
<polygon points="411.1,380.0 432.6,367.2 432.6,392.8" fill="#808000"/>
<polygon points="432.4,365.0 453.9,352.2 453.9,377.8" fill="#808000"/>
<polygon points="453.6,353.5 475.1,340.7 475.1,366.3" fill="#808000"/>
<polygon points="474.9,341.2 496.4,328.4 496.4,354.0" fill="#808000"/>
<polygon points="496.2,327.9 517.7,315.1 517.7,340.7" fill="#808000"/>
<polygon points="517.5,315.6 539.0,302.8 539.0,328.4" fill="#808000"/>
<polygon points="538.8,301.4 560.3,288.6 560.3,314.2" fill="#808000"/>
<polygon points="560.0,289.0 581.5,276.2 581.5,301.8" fill="#808000"/>
<polygon points="581.3,276.3 602.8,263.5 602.8,289.1" fill="#808000"/>
<polygon points="602.6,262.6 624.1,249.8 624.1,275.4" fill="#808000"/>
<polygon points="623.9,251.9 645.4,239.1 645.4,264.7" fill="#808000"/>
<polygon points="645.2,240.1 666.7,227.3 666.7,252.9" fill="#808000"/>
<polygon points="666.4,227.4 687.9,214.6 687.9,240.2" fill="#808000"/>
<polygon points="687.7,214.7 709.2,201.9 709.2,227.5" fill="#808000"/>
<polygon points="709.0,204.0 730.5,191.2 730.5,216.8" fill="#808000"/>
<polygon points="730.3,191.2 751.8,178.4 751.8,204.0" fill="#808000"/>
<polygon points="751.6,177.4 773.1,164.6 773.1,190.2" fill="#808000"/>
<polygon points="772.8,163.6 794.3,150.8 794.3,176.4" fill="#808000"/>
<polygon points="794.1,149.8 815.6,137.0 815.6,162.6" fill="#808000"/>
<polygon points="815.4,137.0 836.9,124.2 836.9,149.8" fill="#808000"/>
<polygon points="836.7,123.2 858.2,110.4 858.2,136.0" fill="#808000"/>
<polygon points="858.0,110.4 879.5,97.6 879.5,123.2" fill="#808000"/>
<polygon points="879.2,98.6 900.7,85.8 900.7,111.4" fill="#808000"/>
<polygon points="900.5,87.8 922.0,75.0 922.0,100.6" fill="#808000"/>
<polygon points="921.8,78.0 943.3,65.2 943.3,90.8" fill="#808000"/>
<polygon points="943.1,69.0 964.6,56.2 964.6,81.8" fill="#808000"/>
<polygon points="964.4,61.0 985.9,48.2 985.9,73.8" fill="#808000"/>
<polygon points="985.6,53.0 1007.1,40.2 1007.1,65.8" fill="#808000"/>
<polygon points="1006.9,46.0 1028.4,33.2 1028.4,58.8" fill="#808000"/>
<polygon points="1028.2,40.0 1049.7,27.2 1049.7,52.8" fill="#808000"/>
<polygon points="1049.5,35.0 1071.0,22.2 1071.0,47.8" fill="#808000"/>
<polygon points="1070.8,31.0 1092.3,18.2 1092.3,43.8" fill="#808000"/>
<polygon points="1092.0,26.5 1113.5,13.7 1113.5,39.3" fill="#808000"/>
<polygon points="1113.3,23.0 1134.8,10.2 1134.8,35.8" fill="#808000"/>
<polygon points="1134.6,19.0 1156.1,6.2 1156.1,31.8" fill="#808000"/>
<polygon points="1155.9,16.0 1177.4,3.2 1177.4,28.8" fill="#808000"/>
<polygon points="1177.2,13.0 1198.7,0.2 1198.7,25.8" fill="#808000"/>
<polygon points="1198.4,11.0 1219.9,-1.8 1219.9,23.8" fill="#808000"/>
<polygon points="1219.7,9.0 1241.2,-3.8 1241.2,21.8" fill="#808000"/>
<polygon points="1241.0,7.0 1262.5,-5.8 1262.5,19.8" fill="#808000"/>
<polyline fill="none" stroke="#00ffff" stroke-width="1.6" points="296.9,510.0 318.2,463.0 339.5,440.0 360.7,421.5 382.0,404.0 403.3,390.0 424.6,377.0 445.9,362.0 467.1,350.5 488.4,338.9 509.7,326.4 531.0,314.8 552.3,301.5 573.5,290.0 594.8,277.1 616.1,263.3 637.4,252.4 658.7,240.6 679.9,227.7 701.2,214.9 722.5,204.0 743.8,191.2 765.1,177.4 786.3,163.6 807.6,149.8 828.9,137.0 850.2,123.4 871.5,110.8 892.7,99.2 914.0,88.6 935.3,79.0 956.6,70.1 977.9,62.1 999.1,54.2 1020.4,47.3 1041.7,41.3 1063.0,36.4 1084.3,32.5 1105.5,28.0 1126.8,24.6 1148.1,20.7 1169.4,17.7 1190.7,14.8 1211.9,12.9 1233.2,10.9 1254.5,9.0"/>
<polygon points="310.4,510.0 288.9,497.2 288.9,522.8" fill="#00ffff"/>
<polygon points="331.7,463.0 310.2,450.2 310.2,475.8" fill="#00ffff"/>
<polygon points="353.0,440.0 331.5,427.2 331.5,452.8" fill="#00ffff"/>
<polygon points="374.2,421.5 352.7,408.7 352.7,434.3" fill="#00ffff"/>
<polygon points="395.5,404.0 374.0,391.2 374.0,416.8" fill="#00ffff"/>
<polygon points="416.8,390.0 395.3,377.2 395.3,402.8" fill="#00ffff"/>
<polygon points="438.1,377.0 416.6,364.2 416.6,389.8" fill="#00ffff"/>
<polygon points="459.4,362.0 437.9,349.2 437.9,374.8" fill="#00ffff"/>
<polygon points="480.6,350.5 459.1,337.7 459.1,363.3" fill="#00ffff"/>
<polygon points="501.9,338.9 480.4,326.1 480.4,351.7" fill="#00ffff"/>
<polygon points="523.2,326.4 501.7,313.6 501.7,339.2" fill="#00ffff"/>
<polygon points="544.5,314.8 523.0,302.0 523.0,327.6" fill="#00ffff"/>
<polygon points="565.8,301.5 544.3,288.7 544.3,314.3" fill="#00ffff"/>
<polygon points="587.0,290.0 565.5,277.2 565.5,302.8" fill="#00ffff"/>
<polygon points="608.3,277.1 586.8,264.3 586.8,289.9" fill="#00ffff"/>
<polygon points="629.6,263.3 608.1,250.5 608.1,276.1" fill="#00ffff"/>
<polygon points="650.9,252.4 629.4,239.6 629.4,265.2" fill="#00ffff"/>
<polygon points="672.2,240.6 650.7,227.8 650.7,253.4" fill="#00ffff"/>
<polygon points="693.4,227.7 671.9,214.9 671.9,240.5" fill="#00ffff"/>
<polygon points="714.7,214.9 693.2,202.1 693.2,227.7" fill="#00ffff"/>
<polygon points="736.0,204.0 714.5,191.2 714.5,216.8" fill="#00ffff"/>
<polygon points="757.3,191.2 735.8,178.4 735.8,204.0" fill="#00ffff"/>
<polygon points="778.6,177.4 757.1,164.6 757.1,190.2" fill="#00ffff"/>
<polygon points="799.8,163.6 778.3,150.8 778.3,176.4" fill="#00ffff"/>
<polygon points="821.1,149.8 799.6,137.0 799.6,162.6" fill="#00ffff"/>
<polygon points="842.4,137.0 820.9,124.2 820.9,149.8" fill="#00ffff"/>
<polygon points="863.7,123.4 842.2,110.6 842.2,136.2" fill="#00ffff"/>
<polygon points="885.0,110.8 863.5,98.0 863.5,123.6" fill="#00ffff"/>
<polygon points="906.2,99.2 884.7,86.4 884.7,112.0" fill="#00ffff"/>
<polygon points="927.5,88.6 906.0,75.8 906.0,101.4" fill="#00ffff"/>
<polygon points="948.8,79.0 927.3,66.2 927.3,91.8" fill="#00ffff"/>
<polygon points="970.1,70.1 948.6,57.3 948.6,82.9" fill="#00ffff"/>
<polygon points="991.4,62.1 969.9,49.3 969.9,74.9" fill="#00ffff"/>
<polygon points="1012.6,54.2 991.1,41.4 991.1,67.0" fill="#00ffff"/>
<polygon points="1033.9,47.3 1012.4,34.5 1012.4,60.1" fill="#00ffff"/>
<polygon points="1055.2,41.3 1033.7,28.5 1033.7,54.1" fill="#00ffff"/>
<polygon points="1076.5,36.4 1055.0,23.6 1055.0,49.2" fill="#00ffff"/>
<polygon points="1097.8,32.5 1076.3,19.7 1076.3,45.3" fill="#00ffff"/>
<polygon points="1119.0,28.0 1097.5,15.2 1097.5,40.8" fill="#00ffff"/>
<polygon points="1140.3,24.6 1118.8,11.8 1118.8,37.4" fill="#00ffff"/>
<polygon points="1161.6,20.7 1140.1,7.9 1140.1,33.5" fill="#00ffff"/>
<polygon points="1182.9,17.7 1161.4,4.9 1161.4,30.5" fill="#00ffff"/>
<polygon points="1204.2,14.8 1182.7,2.0 1182.7,27.6" fill="#00ffff"/>
<polygon points="1225.4,12.9 1203.9,0.1 1203.9,25.7" fill="#00ffff"/>
<polygon points="1246.7,10.9 1225.2,-1.9 1225.2,23.7" fill="#00ffff"/>
<polygon points="1268.0,9.0 1246.5,-3.8 1246.5,21.8" fill="#00ffff"/>
<polyline fill="none" stroke="#808080" stroke-width="1.6" points="296.9,512.0 318.2,472.0 339.5,447.0 360.7,428.5 382.0,411.0 403.3,397.0 424.6,384.0 445.9,369.0 467.1,357.5 488.4,344.6 509.7,330.7 531.0,317.8 552.3,303.0 573.5,290.0 594.8,277.0 616.1,263.0 637.4,252.0 658.7,240.0 679.9,227.0 701.2,214.0 722.5,203.0 743.8,190.0 765.1,176.0 786.3,162.0 807.6,148.0 828.9,135.0 850.2,121.0 871.5,108.0 892.7,96.0 914.0,85.0 935.3,75.0 956.6,66.0 977.9,58.0 999.1,50.0 1020.4,43.0 1041.7,37.0 1063.0,32.0 1084.3,28.0 1105.5,23.5 1126.8,20.0 1148.1,16.0 1169.4,13.0 1190.7,10.0 1211.9,8.0 1233.2,6.0 1254.5,4.0"/>
<polygon points="296.9,500.4 306.9,506.2 306.9,517.8 296.9,523.6 286.9,517.8 286.9,506.2" fill="#808080"/>
<polygon points="318.2,460.4 328.2,466.2 328.2,477.8 318.2,483.6 308.1,477.8 308.1,466.2" fill="#808080"/>
<polygon points="339.5,435.4 349.5,441.2 349.5,452.8 339.5,458.6 329.4,452.8 329.4,441.2" fill="#808080"/>
<polygon points="360.7,416.9 370.8,422.7 370.8,434.3 360.7,440.1 350.7,434.3 350.7,422.7" fill="#808080"/>
<polygon points="382.0,399.4 392.1,405.2 392.1,416.8 382.0,422.6 372.0,416.8 372.0,405.2" fill="#808080"/>
<polygon points="403.3,385.4 413.3,391.2 413.3,402.8 403.3,408.6 393.3,402.8 393.3,391.2" fill="#808080"/>
<polygon points="424.6,372.4 434.6,378.2 434.6,389.8 424.6,395.6 414.5,389.8 414.5,378.2" fill="#808080"/>
<polygon points="445.9,357.4 455.9,363.2 455.9,374.8 445.9,380.6 435.8,374.8 435.8,363.2" fill="#808080"/>
<polygon points="467.1,345.9 477.2,351.7 477.2,363.3 467.1,369.1 457.1,363.3 457.1,351.7" fill="#808080"/>
<polygon points="488.4,333.0 498.5,338.8 498.5,350.4 488.4,356.2 478.4,350.4 478.4,338.8" fill="#808080"/>
<polygon points="509.7,319.1 519.7,324.9 519.7,336.5 509.7,342.3 499.7,336.5 499.7,324.9" fill="#808080"/>
<polygon points="531.0,306.2 541.0,312.0 541.0,323.6 531.0,329.4 520.9,323.6 520.9,312.0" fill="#808080"/>
<polygon points="552.3,291.4 562.3,297.2 562.3,308.8 552.3,314.6 542.2,308.8 542.2,297.2" fill="#808080"/>
<polygon points="573.5,278.4 583.6,284.2 583.6,295.8 573.5,301.6 563.5,295.8 563.5,284.2" fill="#808080"/>
<polygon points="594.8,265.4 604.9,271.2 604.9,282.8 594.8,288.6 584.8,282.8 584.8,271.2" fill="#808080"/>
<polygon points="616.1,251.4 626.1,257.2 626.1,268.8 616.1,274.6 606.1,268.8 606.1,257.2" fill="#808080"/>
<polygon points="637.4,240.4 647.4,246.2 647.4,257.8 637.4,263.6 627.3,257.8 627.3,246.2" fill="#808080"/>
<polygon points="658.7,228.4 668.7,234.2 668.7,245.8 658.7,251.6 648.6,245.8 648.6,234.2" fill="#808080"/>
<polygon points="679.9,215.4 690.0,221.2 690.0,232.8 679.9,238.6 669.9,232.8 669.9,221.2" fill="#808080"/>
<polygon points="701.2,202.4 711.3,208.2 711.3,219.8 701.2,225.6 691.2,219.8 691.2,208.2" fill="#808080"/>
<polygon points="722.5,191.4 732.5,197.2 732.5,208.8 722.5,214.6 712.5,208.8 712.5,197.2" fill="#808080"/>
<polygon points="743.8,178.4 753.8,184.2 753.8,195.8 743.8,201.6 733.7,195.8 733.7,184.2" fill="#808080"/>
<polygon points="765.1,164.4 775.1,170.2 775.1,181.8 765.1,187.6 755.0,181.8 755.0,170.2" fill="#808080"/>
<polygon points="786.3,150.4 796.4,156.2 796.4,167.8 786.3,173.6 776.3,167.8 776.3,156.2" fill="#808080"/>
<polygon points="807.6,136.4 817.7,142.2 817.7,153.8 807.6,159.6 797.6,153.8 797.6,142.2" fill="#808080"/>
<polygon points="828.9,123.4 838.9,129.2 838.9,140.8 828.9,146.6 818.9,140.8 818.9,129.2" fill="#808080"/>
<polygon points="850.2,109.4 860.2,115.2 860.2,126.8 850.2,132.6 840.1,126.8 840.1,115.2" fill="#808080"/>
<polygon points="871.5,96.4 881.5,102.2 881.5,113.8 871.5,119.6 861.4,113.8 861.4,102.2" fill="#808080"/>
<polygon points="892.7,84.4 902.8,90.2 902.8,101.8 892.7,107.6 882.7,101.8 882.7,90.2" fill="#808080"/>
<polygon points="914.0,73.4 924.1,79.2 924.1,90.8 914.0,96.6 904.0,90.8 904.0,79.2" fill="#808080"/>
<polygon points="935.3,63.4 945.3,69.2 945.3,80.8 935.3,86.6 925.3,80.8 925.3,69.2" fill="#808080"/>
<polygon points="956.6,54.4 966.6,60.2 966.6,71.8 956.6,77.6 946.5,71.8 946.5,60.2" fill="#808080"/>
<polygon points="977.9,46.4 987.9,52.2 987.9,63.8 977.9,69.6 967.8,63.8 967.8,52.2" fill="#808080"/>
<polygon points="999.1,38.4 1009.2,44.2 1009.2,55.8 999.1,61.6 989.1,55.8 989.1,44.2" fill="#808080"/>
<polygon points="1020.4,31.4 1030.5,37.2 1030.5,48.8 1020.4,54.6 1010.4,48.8 1010.4,37.2" fill="#808080"/>
<polygon points="1041.7,25.4 1051.7,31.2 1051.7,42.8 1041.7,48.6 1031.7,42.8 1031.7,31.2" fill="#808080"/>
<polygon points="1063.0,20.4 1073.0,26.2 1073.0,37.8 1063.0,43.6 1052.9,37.8 1052.9,26.2" fill="#808080"/>
<polygon points="1084.3,16.4 1094.3,22.2 1094.3,33.8 1084.3,39.6 1074.2,33.8 1074.2,22.2" fill="#808080"/>
<polygon points="1105.5,11.9 1115.6,17.7 1115.6,29.3 1105.5,35.1 1095.5,29.3 1095.5,17.7" fill="#808080"/>
<polygon points="1126.8,8.4 1136.9,14.2 1136.9,25.8 1126.8,31.6 1116.8,25.8 1116.8,14.2" fill="#808080"/>
<polygon points="1148.1,4.4 1158.1,10.2 1158.1,21.8 1148.1,27.6 1138.1,21.8 1138.1,10.2" fill="#808080"/>
<polygon points="1169.4,1.4 1179.4,7.2 1179.4,18.8 1169.4,24.6 1159.3,18.8 1159.3,7.2" fill="#808080"/>
<polygon points="1190.7,-1.6 1200.7,4.2 1200.7,15.8 1190.7,21.6 1180.6,15.8 1180.6,4.2" fill="#808080"/>
<polygon points="1211.9,-3.6 1222.0,2.2 1222.0,13.8 1211.9,19.6 1201.9,13.8 1201.9,2.2" fill="#808080"/>
<polygon points="1233.2,-5.6 1243.3,0.2 1243.3,11.8 1233.2,17.6 1223.2,11.8 1223.2,0.2" fill="#808080"/>
<polygon points="1254.5,-7.6 1264.5,-1.8 1264.5,9.8 1254.5,15.6 1244.5,9.8 1244.5,-1.8" fill="#808080"/>
<polyline fill="none" stroke="#000000" stroke-width="1.6" points="296.9,546.0 318.2,521.0 339.5,500.0 360.7,502.7 382.0,479.5 403.3,476.4 424.6,492.0 445.9,474.4 467.1,469.5 488.4,464.6 509.7,464.5 531.0,466.4 552.3,452.8 573.5,448.5 594.8,439.5 616.1,420.8 637.4,403.0 658.7,382.0 679.9,357.0 701.2,336.3 722.5,312.0 743.8,288.0 765.1,269.0 786.3,248.3 807.6,226.5 828.9,206.0 850.2,187.2 871.5,168.0 892.7,150.4 914.0,135.8 935.3,123.9 956.6,113.0 977.9,104.0 999.1,97.1 1020.4,90.2 1041.7,84.5 1063.0,78.5 1084.3,73.9 1105.5,69.6 1126.8,66.2 1148.1,62.7 1169.4,59.3 1190.7,56.7 1211.9,54.1 1233.2,50.7 1254.5,47.0"/>
<rect x="288.4" y="537.5" width="17.0" height="17.0" fill="#fff" stroke="#000000" stroke-width="2"/>
<rect x="309.7" y="512.5" width="17.0" height="17.0" fill="#fff" stroke="#000000" stroke-width="2"/>
<rect x="331.0" y="491.5" width="17.0" height="17.0" fill="#fff" stroke="#000000" stroke-width="2"/>
<rect x="352.2" y="494.2" width="17.0" height="17.0" fill="#fff" stroke="#000000" stroke-width="2"/>
<rect x="373.5" y="471.0" width="17.0" height="17.0" fill="#fff" stroke="#000000" stroke-width="2"/>
<rect x="394.8" y="467.9" width="17.0" height="17.0" fill="#fff" stroke="#000000" stroke-width="2"/>
<rect x="416.1" y="483.5" width="17.0" height="17.0" fill="#fff" stroke="#000000" stroke-width="2"/>
<rect x="437.4" y="465.9" width="17.0" height="17.0" fill="#fff" stroke="#000000" stroke-width="2"/>
<rect x="458.6" y="461.0" width="17.0" height="17.0" fill="#fff" stroke="#000000" stroke-width="2"/>
<rect x="479.9" y="456.1" width="17.0" height="17.0" fill="#fff" stroke="#000000" stroke-width="2"/>
<rect x="501.2" y="456.0" width="17.0" height="17.0" fill="#fff" stroke="#000000" stroke-width="2"/>
<rect x="522.5" y="457.9" width="17.0" height="17.0" fill="#fff" stroke="#000000" stroke-width="2"/>
<rect x="543.8" y="444.3" width="17.0" height="17.0" fill="#fff" stroke="#000000" stroke-width="2"/>
<rect x="565.0" y="440.0" width="17.0" height="17.0" fill="#fff" stroke="#000000" stroke-width="2"/>
<rect x="586.3" y="431.0" width="17.0" height="17.0" fill="#fff" stroke="#000000" stroke-width="2"/>
<rect x="607.6" y="412.3" width="17.0" height="17.0" fill="#fff" stroke="#000000" stroke-width="2"/>
<rect x="628.9" y="394.5" width="17.0" height="17.0" fill="#fff" stroke="#000000" stroke-width="2"/>
<rect x="650.2" y="373.5" width="17.0" height="17.0" fill="#fff" stroke="#000000" stroke-width="2"/>
<rect x="671.4" y="348.5" width="17.0" height="17.0" fill="#fff" stroke="#000000" stroke-width="2"/>
<rect x="692.7" y="327.8" width="17.0" height="17.0" fill="#fff" stroke="#000000" stroke-width="2"/>
<rect x="714.0" y="303.5" width="17.0" height="17.0" fill="#fff" stroke="#000000" stroke-width="2"/>
<rect x="735.3" y="279.5" width="17.0" height="17.0" fill="#fff" stroke="#000000" stroke-width="2"/>
<rect x="756.6" y="260.5" width="17.0" height="17.0" fill="#fff" stroke="#000000" stroke-width="2"/>
<rect x="777.8" y="239.8" width="17.0" height="17.0" fill="#fff" stroke="#000000" stroke-width="2"/>
<rect x="799.1" y="218.0" width="17.0" height="17.0" fill="#fff" stroke="#000000" stroke-width="2"/>
<rect x="820.4" y="197.5" width="17.0" height="17.0" fill="#fff" stroke="#000000" stroke-width="2"/>
<rect x="841.7" y="178.7" width="17.0" height="17.0" fill="#fff" stroke="#000000" stroke-width="2"/>
<rect x="863.0" y="159.5" width="17.0" height="17.0" fill="#fff" stroke="#000000" stroke-width="2"/>
<rect x="884.2" y="141.9" width="17.0" height="17.0" fill="#fff" stroke="#000000" stroke-width="2"/>
<rect x="905.5" y="127.3" width="17.0" height="17.0" fill="#fff" stroke="#000000" stroke-width="2"/>
<rect x="926.8" y="115.4" width="17.0" height="17.0" fill="#fff" stroke="#000000" stroke-width="2"/>
<rect x="948.1" y="104.5" width="17.0" height="17.0" fill="#fff" stroke="#000000" stroke-width="2"/>
<rect x="969.4" y="95.5" width="17.0" height="17.0" fill="#fff" stroke="#000000" stroke-width="2"/>
<rect x="990.6" y="88.6" width="17.0" height="17.0" fill="#fff" stroke="#000000" stroke-width="2"/>
<rect x="1011.9" y="81.7" width="17.0" height="17.0" fill="#fff" stroke="#000000" stroke-width="2"/>
<rect x="1033.2" y="76.0" width="17.0" height="17.0" fill="#fff" stroke="#000000" stroke-width="2"/>
<rect x="1054.5" y="70.0" width="17.0" height="17.0" fill="#fff" stroke="#000000" stroke-width="2"/>
<rect x="1075.8" y="65.4" width="17.0" height="17.0" fill="#fff" stroke="#000000" stroke-width="2"/>
<rect x="1097.0" y="61.1" width="17.0" height="17.0" fill="#fff" stroke="#000000" stroke-width="2"/>
<rect x="1118.3" y="57.7" width="17.0" height="17.0" fill="#fff" stroke="#000000" stroke-width="2"/>
<rect x="1139.6" y="54.2" width="17.0" height="17.0" fill="#fff" stroke="#000000" stroke-width="2"/>
<rect x="1160.9" y="50.8" width="17.0" height="17.0" fill="#fff" stroke="#000000" stroke-width="2"/>
<rect x="1182.2" y="48.2" width="17.0" height="17.0" fill="#fff" stroke="#000000" stroke-width="2"/>
<rect x="1203.4" y="45.6" width="17.0" height="17.0" fill="#fff" stroke="#000000" stroke-width="2"/>
<rect x="1224.7" y="42.2" width="17.0" height="17.0" fill="#fff" stroke="#000000" stroke-width="2"/>
<rect x="1246.0" y="38.5" width="17.0" height="17.0" fill="#fff" stroke="#000000" stroke-width="2"/>
<polyline fill="none" stroke="#0000ff" stroke-width="1.6" points="339.5,486.0 360.7,474.0 382.0,457.0 403.3,447.0 424.6,438.5 445.9,428.7 467.1,418.0 488.4,412.0 509.7,403.5 531.0,397.0 552.3,385.5 573.5,373.5 594.8,362.5 616.1,349.0 637.4,332.0 658.7,318.0 679.9,298.0 701.2,281.0 722.5,263.0 743.8,244.0 765.1,226.5 786.3,208.0 807.6,193.8 828.9,176.3 850.2,159.0 871.5,141.5 892.7,127.5 914.0,115.0 935.3,104.0 956.6,94.2 977.9,87.2 999.1,80.3 1020.4,75.3 1041.7,70.0 1063.0,64.5 1084.3,60.2 1105.5,57.6 1126.8,54.1 1148.1,50.7 1169.4,48.1 1190.7,44.7 1211.9,42.1 1233.2,39.5 1254.5,37.8"/>
<circle cx="339.5" cy="486.0" r="9.8" fill="#fff" stroke="#0000ff" stroke-width="2"/>
<circle cx="360.7" cy="474.0" r="9.8" fill="#fff" stroke="#0000ff" stroke-width="2"/>
<circle cx="382.0" cy="457.0" r="9.8" fill="#fff" stroke="#0000ff" stroke-width="2"/>
<circle cx="403.3" cy="447.0" r="9.8" fill="#fff" stroke="#0000ff" stroke-width="2"/>
<circle cx="424.6" cy="438.5" r="9.8" fill="#fff" stroke="#0000ff" stroke-width="2"/>
<circle cx="445.9" cy="428.7" r="9.8" fill="#fff" stroke="#0000ff" stroke-width="2"/>
<circle cx="467.1" cy="418.0" r="9.8" fill="#fff" stroke="#0000ff" stroke-width="2"/>
<circle cx="488.4" cy="412.0" r="9.8" fill="#fff" stroke="#0000ff" stroke-width="2"/>
<circle cx="509.7" cy="403.5" r="9.8" fill="#fff" stroke="#0000ff" stroke-width="2"/>
<circle cx="531.0" cy="397.0" r="9.8" fill="#fff" stroke="#0000ff" stroke-width="2"/>
<circle cx="552.3" cy="385.5" r="9.8" fill="#fff" stroke="#0000ff" stroke-width="2"/>
<circle cx="573.5" cy="373.5" r="9.8" fill="#fff" stroke="#0000ff" stroke-width="2"/>
<circle cx="594.8" cy="362.5" r="9.8" fill="#fff" stroke="#0000ff" stroke-width="2"/>
<circle cx="616.1" cy="349.0" r="9.8" fill="#fff" stroke="#0000ff" stroke-width="2"/>
<circle cx="637.4" cy="332.0" r="9.8" fill="#fff" stroke="#0000ff" stroke-width="2"/>
<circle cx="658.7" cy="318.0" r="9.8" fill="#fff" stroke="#0000ff" stroke-width="2"/>
<circle cx="679.9" cy="298.0" r="9.8" fill="#fff" stroke="#0000ff" stroke-width="2"/>
<circle cx="701.2" cy="281.0" r="9.8" fill="#fff" stroke="#0000ff" stroke-width="2"/>
<circle cx="722.5" cy="263.0" r="9.8" fill="#fff" stroke="#0000ff" stroke-width="2"/>
<circle cx="743.8" cy="244.0" r="9.8" fill="#fff" stroke="#0000ff" stroke-width="2"/>
<circle cx="765.1" cy="226.5" r="9.8" fill="#fff" stroke="#0000ff" stroke-width="2"/>
<circle cx="786.3" cy="208.0" r="9.8" fill="#fff" stroke="#0000ff" stroke-width="2"/>
<circle cx="807.6" cy="193.8" r="9.8" fill="#fff" stroke="#0000ff" stroke-width="2"/>
<circle cx="828.9" cy="176.3" r="9.8" fill="#fff" stroke="#0000ff" stroke-width="2"/>
<circle cx="850.2" cy="159.0" r="9.8" fill="#fff" stroke="#0000ff" stroke-width="2"/>
<circle cx="871.5" cy="141.5" r="9.8" fill="#fff" stroke="#0000ff" stroke-width="2"/>
<circle cx="892.7" cy="127.5" r="9.8" fill="#fff" stroke="#0000ff" stroke-width="2"/>
<circle cx="914.0" cy="115.0" r="9.8" fill="#fff" stroke="#0000ff" stroke-width="2"/>
<circle cx="935.3" cy="104.0" r="9.8" fill="#fff" stroke="#0000ff" stroke-width="2"/>
<circle cx="956.6" cy="94.2" r="9.8" fill="#fff" stroke="#0000ff" stroke-width="2"/>
<circle cx="977.9" cy="87.2" r="9.8" fill="#fff" stroke="#0000ff" stroke-width="2"/>
<circle cx="999.1" cy="80.3" r="9.8" fill="#fff" stroke="#0000ff" stroke-width="2"/>
<circle cx="1020.4" cy="75.3" r="9.8" fill="#fff" stroke="#0000ff" stroke-width="2"/>
<circle cx="1041.7" cy="70.0" r="9.8" fill="#fff" stroke="#0000ff" stroke-width="2"/>
<circle cx="1063.0" cy="64.5" r="9.8" fill="#fff" stroke="#0000ff" stroke-width="2"/>
<circle cx="1084.3" cy="60.2" r="9.8" fill="#fff" stroke="#0000ff" stroke-width="2"/>
<circle cx="1105.5" cy="57.6" r="9.8" fill="#fff" stroke="#0000ff" stroke-width="2"/>
<circle cx="1126.8" cy="54.1" r="9.8" fill="#fff" stroke="#0000ff" stroke-width="2"/>
<circle cx="1148.1" cy="50.7" r="9.8" fill="#fff" stroke="#0000ff" stroke-width="2"/>
<circle cx="1169.4" cy="48.1" r="9.8" fill="#fff" stroke="#0000ff" stroke-width="2"/>
<circle cx="1190.7" cy="44.7" r="9.8" fill="#fff" stroke="#0000ff" stroke-width="2"/>
<circle cx="1211.9" cy="42.1" r="9.8" fill="#fff" stroke="#0000ff" stroke-width="2"/>
<circle cx="1233.2" cy="39.5" r="9.8" fill="#fff" stroke="#0000ff" stroke-width="2"/>
<circle cx="1254.5" cy="37.8" r="9.8" fill="#fff" stroke="#0000ff" stroke-width="2"/>
<polyline fill="none" stroke="#008000" stroke-width="1.6" points="318.2,496.5 339.5,461.0 360.7,452.1 382.0,438.7 403.3,429.0 424.6,419.0 445.9,397.0 467.1,384.0 488.4,372.0 509.7,356.5 531.0,342.2 552.3,328.9 573.5,314.6 594.8,300.4 616.1,287.0 637.4,270.3 658.7,256.4 679.9,242.5 701.2,228.2 722.5,214.0 743.8,199.4 765.1,184.2 786.3,171.0 807.6,155.8 828.9,142.7 850.2,128.5 871.5,117.0 892.7,105.1 914.0,95.2 935.3,86.3 956.6,79.4 977.9,72.4 999.1,65.5 1020.4,61.3 1041.7,57.5 1063.0,53.8 1084.3,50.2 1105.5,46.2 1126.8,43.3 1148.1,40.1 1169.4,37.5 1190.7,34.9 1211.9,32.3 1233.2,29.8 1254.5,28.0"/>
<polygon points="318.2,484.3 329.8,503.7 306.6,503.7" fill="#fff" stroke="#008000" stroke-width="2"/>
<polygon points="339.5,448.8 351.1,468.2 327.9,468.2" fill="#fff" stroke="#008000" stroke-width="2"/>
<polygon points="360.7,439.9 372.3,459.3 349.1,459.3" fill="#fff" stroke="#008000" stroke-width="2"/>
<polygon points="382.0,426.5 393.6,445.9 370.4,445.9" fill="#fff" stroke="#008000" stroke-width="2"/>
<polygon points="403.3,416.8 414.9,436.2 391.7,436.2" fill="#fff" stroke="#008000" stroke-width="2"/>
<polygon points="424.6,406.8 436.2,426.2 413.0,426.2" fill="#fff" stroke="#008000" stroke-width="2"/>
<polygon points="445.9,384.8 457.5,404.2 434.3,404.2" fill="#fff" stroke="#008000" stroke-width="2"/>
<polygon points="467.1,371.8 478.7,391.2 455.5,391.2" fill="#fff" stroke="#008000" stroke-width="2"/>
<polygon points="488.4,359.8 500.0,379.2 476.8,379.2" fill="#fff" stroke="#008000" stroke-width="2"/>
<polygon points="509.7,344.3 521.3,363.7 498.1,363.7" fill="#fff" stroke="#008000" stroke-width="2"/>
<polygon points="531.0,330.0 542.6,349.4 519.4,349.4" fill="#fff" stroke="#008000" stroke-width="2"/>
<polygon points="552.3,316.7 563.9,336.1 540.7,336.1" fill="#fff" stroke="#008000" stroke-width="2"/>
<polygon points="573.5,302.4 585.1,321.8 561.9,321.8" fill="#fff" stroke="#008000" stroke-width="2"/>
<polygon points="594.8,288.2 606.4,307.6 583.2,307.6" fill="#fff" stroke="#008000" stroke-width="2"/>
<polygon points="616.1,274.8 627.7,294.2 604.5,294.2" fill="#fff" stroke="#008000" stroke-width="2"/>
<polygon points="637.4,258.1 649.0,277.5 625.8,277.5" fill="#fff" stroke="#008000" stroke-width="2"/>
<polygon points="658.7,244.2 670.3,263.6 647.1,263.6" fill="#fff" stroke="#008000" stroke-width="2"/>
<polygon points="679.9,230.3 691.5,249.7 668.3,249.7" fill="#fff" stroke="#008000" stroke-width="2"/>
<polygon points="701.2,216.0 712.8,235.4 689.6,235.4" fill="#fff" stroke="#008000" stroke-width="2"/>
<polygon points="722.5,201.8 734.1,221.2 710.9,221.2" fill="#fff" stroke="#008000" stroke-width="2"/>
<polygon points="743.8,187.2 755.4,206.6 732.2,206.6" fill="#fff" stroke="#008000" stroke-width="2"/>
<polygon points="765.1,172.0 776.7,191.4 753.5,191.4" fill="#fff" stroke="#008000" stroke-width="2"/>
<polygon points="786.3,158.8 797.9,178.2 774.7,178.2" fill="#fff" stroke="#008000" stroke-width="2"/>
<polygon points="807.6,143.6 819.2,163.0 796.0,163.0" fill="#fff" stroke="#008000" stroke-width="2"/>
<polygon points="828.9,130.5 840.5,149.9 817.3,149.9" fill="#fff" stroke="#008000" stroke-width="2"/>
<polygon points="850.2,116.3 861.8,135.7 838.6,135.7" fill="#fff" stroke="#008000" stroke-width="2"/>
<polygon points="871.5,104.8 883.1,124.2 859.9,124.2" fill="#fff" stroke="#008000" stroke-width="2"/>
<polygon points="892.7,92.9 904.3,112.3 881.1,112.3" fill="#fff" stroke="#008000" stroke-width="2"/>
<polygon points="914.0,83.0 925.6,102.4 902.4,102.4" fill="#fff" stroke="#008000" stroke-width="2"/>
<polygon points="935.3,74.1 946.9,93.5 923.7,93.5" fill="#fff" stroke="#008000" stroke-width="2"/>
<polygon points="956.6,67.2 968.2,86.6 945.0,86.6" fill="#fff" stroke="#008000" stroke-width="2"/>
<polygon points="977.9,60.2 989.5,79.6 966.3,79.6" fill="#fff" stroke="#008000" stroke-width="2"/>
<polygon points="999.1,53.3 1010.7,72.7 987.5,72.7" fill="#fff" stroke="#008000" stroke-width="2"/>
<polygon points="1020.4,49.1 1032.0,68.5 1008.8,68.5" fill="#fff" stroke="#008000" stroke-width="2"/>
<polygon points="1041.7,45.3 1053.3,64.7 1030.1,64.7" fill="#fff" stroke="#008000" stroke-width="2"/>
<polygon points="1063.0,41.6 1074.6,61.0 1051.4,61.0" fill="#fff" stroke="#008000" stroke-width="2"/>
<polygon points="1084.3,38.0 1095.9,57.4 1072.7,57.4" fill="#fff" stroke="#008000" stroke-width="2"/>
<polygon points="1105.5,34.0 1117.1,53.4 1093.9,53.4" fill="#fff" stroke="#008000" stroke-width="2"/>
<polygon points="1126.8,31.1 1138.4,50.5 1115.2,50.5" fill="#fff" stroke="#008000" stroke-width="2"/>
<polygon points="1148.1,27.9 1159.7,47.3 1136.5,47.3" fill="#fff" stroke="#008000" stroke-width="2"/>
<polygon points="1169.4,25.3 1181.0,44.7 1157.8,44.7" fill="#fff" stroke="#008000" stroke-width="2"/>
<polygon points="1190.7,22.7 1202.3,42.1 1179.1,42.1" fill="#fff" stroke="#008000" stroke-width="2"/>
<polygon points="1211.9,20.1 1223.5,39.5 1200.3,39.5" fill="#fff" stroke="#008000" stroke-width="2"/>
<polygon points="1233.2,17.6 1244.8,37.0 1221.6,37.0" fill="#fff" stroke="#008000" stroke-width="2"/>
<polygon points="1254.5,15.8 1266.1,35.2 1242.9,35.2" fill="#fff" stroke="#008000" stroke-width="2"/>
<polyline fill="none" stroke="#ff0000" stroke-width="1.6" points="318.2,579.5 339.5,458.0 360.7,453.8 382.0,435.5 403.3,421.0 424.6,411.2 445.9,389.4 467.1,376.6 488.4,364.8 509.7,349.5 531.0,335.0 552.3,321.5 573.5,307.0 594.8,292.6 616.1,279.0 637.4,261.7 658.7,247.2 679.9,232.7 701.2,219.3 722.5,206.0 743.8,191.5 765.1,176.4 786.3,163.3 807.6,148.2 828.9,135.2 850.2,121.1 871.5,109.7 892.7,97.9 914.0,88.1 935.3,79.3 956.6,72.4 977.9,65.4 999.1,58.5 1020.4,54.3 1041.7,50.5 1063.0,46.8 1084.3,43.2 1105.5,39.2 1126.8,36.3 1148.1,33.1 1169.4,30.5 1190.7,27.9 1211.9,25.3 1233.2,22.8 1254.5,21.0"/>
<polygon points="318.2,591.7 329.8,572.3 306.6,572.3" fill="#fff" stroke="#ff0000" stroke-width="2"/>
<polygon points="339.5,470.2 351.1,450.8 327.9,450.8" fill="#fff" stroke="#ff0000" stroke-width="2"/>
<polygon points="360.7,466.0 372.3,446.6 349.1,446.6" fill="#fff" stroke="#ff0000" stroke-width="2"/>
<polygon points="382.0,447.7 393.6,428.3 370.4,428.3" fill="#fff" stroke="#ff0000" stroke-width="2"/>
<polygon points="403.3,433.2 414.9,413.8 391.7,413.8" fill="#fff" stroke="#ff0000" stroke-width="2"/>
<polygon points="424.6,423.4 436.2,404.0 413.0,404.0" fill="#fff" stroke="#ff0000" stroke-width="2"/>
<polygon points="445.9,401.6 457.5,382.2 434.3,382.2" fill="#fff" stroke="#ff0000" stroke-width="2"/>
<polygon points="467.1,388.8 478.7,369.4 455.5,369.4" fill="#fff" stroke="#ff0000" stroke-width="2"/>
<polygon points="488.4,377.0 500.0,357.6 476.8,357.6" fill="#fff" stroke="#ff0000" stroke-width="2"/>
<polygon points="509.7,361.7 521.3,342.3 498.1,342.3" fill="#fff" stroke="#ff0000" stroke-width="2"/>
<polygon points="531.0,347.2 542.6,327.8 519.4,327.8" fill="#fff" stroke="#ff0000" stroke-width="2"/>
<polygon points="552.3,333.7 563.9,314.3 540.7,314.3" fill="#fff" stroke="#ff0000" stroke-width="2"/>
<polygon points="573.5,319.2 585.1,299.8 561.9,299.8" fill="#fff" stroke="#ff0000" stroke-width="2"/>
<polygon points="594.8,304.8 606.4,285.4 583.2,285.4" fill="#fff" stroke="#ff0000" stroke-width="2"/>
<polygon points="616.1,291.2 627.7,271.8 604.5,271.8" fill="#fff" stroke="#ff0000" stroke-width="2"/>
<polygon points="637.4,273.9 649.0,254.5 625.8,254.5" fill="#fff" stroke="#ff0000" stroke-width="2"/>
<polygon points="658.7,259.4 670.3,240.0 647.1,240.0" fill="#fff" stroke="#ff0000" stroke-width="2"/>
<polygon points="679.9,244.9 691.5,225.5 668.3,225.5" fill="#fff" stroke="#ff0000" stroke-width="2"/>
<polygon points="701.2,231.5 712.8,212.1 689.6,212.1" fill="#fff" stroke="#ff0000" stroke-width="2"/>
<polygon points="722.5,218.2 734.1,198.8 710.9,198.8" fill="#fff" stroke="#ff0000" stroke-width="2"/>
<polygon points="743.8,203.7 755.4,184.3 732.2,184.3" fill="#fff" stroke="#ff0000" stroke-width="2"/>
<polygon points="765.1,188.6 776.7,169.2 753.5,169.2" fill="#fff" stroke="#ff0000" stroke-width="2"/>
<polygon points="786.3,175.5 797.9,156.1 774.7,156.1" fill="#fff" stroke="#ff0000" stroke-width="2"/>
<polygon points="807.6,160.4 819.2,141.0 796.0,141.0" fill="#fff" stroke="#ff0000" stroke-width="2"/>
<polygon points="828.9,147.4 840.5,128.0 817.3,128.0" fill="#fff" stroke="#ff0000" stroke-width="2"/>
<polygon points="850.2,133.3 861.8,113.9 838.6,113.9" fill="#fff" stroke="#ff0000" stroke-width="2"/>
<polygon points="871.5,121.9 883.1,102.5 859.9,102.5" fill="#fff" stroke="#ff0000" stroke-width="2"/>
<polygon points="892.7,110.1 904.3,90.7 881.1,90.7" fill="#fff" stroke="#ff0000" stroke-width="2"/>
<polygon points="914.0,100.3 925.6,80.9 902.4,80.9" fill="#fff" stroke="#ff0000" stroke-width="2"/>
<polygon points="935.3,91.5 946.9,72.1 923.7,72.1" fill="#fff" stroke="#ff0000" stroke-width="2"/>
<polygon points="956.6,84.6 968.2,65.2 945.0,65.2" fill="#fff" stroke="#ff0000" stroke-width="2"/>
<polygon points="977.9,77.6 989.5,58.2 966.3,58.2" fill="#fff" stroke="#ff0000" stroke-width="2"/>
<polygon points="999.1,70.7 1010.7,51.3 987.5,51.3" fill="#fff" stroke="#ff0000" stroke-width="2"/>
<polygon points="1020.4,66.5 1032.0,47.1 1008.8,47.1" fill="#fff" stroke="#ff0000" stroke-width="2"/>
<polygon points="1041.7,62.7 1053.3,43.3 1030.1,43.3" fill="#fff" stroke="#ff0000" stroke-width="2"/>
<polygon points="1063.0,59.0 1074.6,39.6 1051.4,39.6" fill="#fff" stroke="#ff0000" stroke-width="2"/>
<polygon points="1084.3,55.4 1095.9,36.0 1072.7,36.0" fill="#fff" stroke="#ff0000" stroke-width="2"/>
<polygon points="1105.5,51.4 1117.1,32.0 1093.9,32.0" fill="#fff" stroke="#ff0000" stroke-width="2"/>
<polygon points="1126.8,48.5 1138.4,29.1 1115.2,29.1" fill="#fff" stroke="#ff0000" stroke-width="2"/>
<polygon points="1148.1,45.3 1159.7,25.9 1136.5,25.9" fill="#fff" stroke="#ff0000" stroke-width="2"/>
<polygon points="1169.4,42.7 1181.0,23.3 1157.8,23.3" fill="#fff" stroke="#ff0000" stroke-width="2"/>
<polygon points="1190.7,40.1 1202.3,20.7 1179.1,20.7" fill="#fff" stroke="#ff0000" stroke-width="2"/>
<polygon points="1211.9,37.5 1223.5,18.1 1200.3,18.1" fill="#fff" stroke="#ff0000" stroke-width="2"/>
<polygon points="1233.2,35.0 1244.8,15.6 1221.6,15.6" fill="#fff" stroke="#ff0000" stroke-width="2"/>
<polygon points="1254.5,33.2 1266.1,13.8 1242.9,13.8" fill="#fff" stroke="#ff0000" stroke-width="2"/>
<polyline fill="none" stroke="#800000" stroke-width="1.6" points="296.9,494.0 318.2,526.0 339.5,481.0 360.7,470.8 382.0,470.0 403.3,437.0 424.6,425.8 445.9,402.6 467.1,388.4 488.4,375.2 509.7,358.5 531.0,343.1 552.3,328.7 573.5,313.3 594.8,298.0 616.1,283.5 637.4,265.3 658.7,249.9 679.9,234.5 701.2,220.2 722.5,206.0 743.8,191.5 765.1,176.4 786.3,163.3 807.6,148.2 828.9,135.2 850.2,121.1 871.5,109.7 892.7,97.9 914.0,88.1 935.3,79.3 956.6,72.4 977.9,65.4 999.1,58.5 1020.4,54.3 1041.7,50.5 1063.0,46.8 1084.3,43.2 1105.5,39.2 1126.8,36.3 1148.1,33.1 1169.4,30.5 1190.7,27.9 1211.9,25.3 1233.2,22.8 1254.5,21.0"/>
<polygon points="296.9,482.0 308.9,494.0 296.9,506.0 284.9,494.0" fill="#fff" stroke="#800000" stroke-width="2"/>
<polygon points="318.2,514.0 330.2,526.0 318.2,538.0 306.2,526.0" fill="#fff" stroke="#800000" stroke-width="2"/>
<polygon points="339.5,469.0 351.5,481.0 339.5,493.0 327.5,481.0" fill="#fff" stroke="#800000" stroke-width="2"/>
<polygon points="360.7,458.8 372.7,470.8 360.7,482.8 348.7,470.8" fill="#fff" stroke="#800000" stroke-width="2"/>
<polygon points="382.0,458.0 394.0,470.0 382.0,482.0 370.0,470.0" fill="#fff" stroke="#800000" stroke-width="2"/>
<polygon points="403.3,425.0 415.3,437.0 403.3,449.0 391.3,437.0" fill="#fff" stroke="#800000" stroke-width="2"/>
<polygon points="424.6,413.8 436.6,425.8 424.6,437.8 412.6,425.8" fill="#fff" stroke="#800000" stroke-width="2"/>
<polygon points="445.9,390.6 457.9,402.6 445.9,414.6 433.9,402.6" fill="#fff" stroke="#800000" stroke-width="2"/>
<polygon points="467.1,376.4 479.1,388.4 467.1,400.4 455.1,388.4" fill="#fff" stroke="#800000" stroke-width="2"/>
<polygon points="488.4,363.2 500.4,375.2 488.4,387.2 476.4,375.2" fill="#fff" stroke="#800000" stroke-width="2"/>
<polygon points="509.7,346.5 521.7,358.5 509.7,370.5 497.7,358.5" fill="#fff" stroke="#800000" stroke-width="2"/>
<polygon points="531.0,331.1 543.0,343.1 531.0,355.1 519.0,343.1" fill="#fff" stroke="#800000" stroke-width="2"/>
<polygon points="552.3,316.7 564.3,328.7 552.3,340.7 540.3,328.7" fill="#fff" stroke="#800000" stroke-width="2"/>
<polygon points="573.5,301.3 585.5,313.3 573.5,325.3 561.5,313.3" fill="#fff" stroke="#800000" stroke-width="2"/>
<polygon points="594.8,286.0 606.8,298.0 594.8,310.0 582.8,298.0" fill="#fff" stroke="#800000" stroke-width="2"/>
<polygon points="616.1,271.5 628.1,283.5 616.1,295.5 604.1,283.5" fill="#fff" stroke="#800000" stroke-width="2"/>
<polygon points="637.4,253.3 649.4,265.3 637.4,277.3 625.4,265.3" fill="#fff" stroke="#800000" stroke-width="2"/>
<polygon points="658.7,237.9 670.7,249.9 658.7,261.9 646.7,249.9" fill="#fff" stroke="#800000" stroke-width="2"/>
<polygon points="679.9,222.5 691.9,234.5 679.9,246.5 667.9,234.5" fill="#fff" stroke="#800000" stroke-width="2"/>
<polygon points="701.2,208.2 713.2,220.2 701.2,232.2 689.2,220.2" fill="#fff" stroke="#800000" stroke-width="2"/>
<polygon points="722.5,194.0 734.5,206.0 722.5,218.0 710.5,206.0" fill="#fff" stroke="#800000" stroke-width="2"/>
<polygon points="743.8,179.5 755.8,191.5 743.8,203.5 731.8,191.5" fill="#fff" stroke="#800000" stroke-width="2"/>
<polygon points="765.1,164.4 777.1,176.4 765.1,188.4 753.1,176.4" fill="#fff" stroke="#800000" stroke-width="2"/>
<polygon points="786.3,151.3 798.3,163.3 786.3,175.3 774.3,163.3" fill="#fff" stroke="#800000" stroke-width="2"/>
<polygon points="807.6,136.2 819.6,148.2 807.6,160.2 795.6,148.2" fill="#fff" stroke="#800000" stroke-width="2"/>
<polygon points="828.9,123.2 840.9,135.2 828.9,147.2 816.9,135.2" fill="#fff" stroke="#800000" stroke-width="2"/>
<polygon points="850.2,109.1 862.2,121.1 850.2,133.1 838.2,121.1" fill="#fff" stroke="#800000" stroke-width="2"/>
<polygon points="871.5,97.7 883.5,109.7 871.5,121.7 859.5,109.7" fill="#fff" stroke="#800000" stroke-width="2"/>
<polygon points="892.7,85.9 904.7,97.9 892.7,109.9 880.7,97.9" fill="#fff" stroke="#800000" stroke-width="2"/>
<polygon points="914.0,76.1 926.0,88.1 914.0,100.1 902.0,88.1" fill="#fff" stroke="#800000" stroke-width="2"/>
<polygon points="935.3,67.3 947.3,79.3 935.3,91.3 923.3,79.3" fill="#fff" stroke="#800000" stroke-width="2"/>
<polygon points="956.6,60.4 968.6,72.4 956.6,84.4 944.6,72.4" fill="#fff" stroke="#800000" stroke-width="2"/>
<polygon points="977.9,53.4 989.9,65.4 977.9,77.4 965.9,65.4" fill="#fff" stroke="#800000" stroke-width="2"/>
<polygon points="999.1,46.5 1011.1,58.5 999.1,70.5 987.1,58.5" fill="#fff" stroke="#800000" stroke-width="2"/>
<polygon points="1020.4,42.3 1032.4,54.3 1020.4,66.3 1008.4,54.3" fill="#fff" stroke="#800000" stroke-width="2"/>
<polygon points="1041.7,38.5 1053.7,50.5 1041.7,62.5 1029.7,50.5" fill="#fff" stroke="#800000" stroke-width="2"/>
<polygon points="1063.0,34.8 1075.0,46.8 1063.0,58.8 1051.0,46.8" fill="#fff" stroke="#800000" stroke-width="2"/>
<polygon points="1084.3,31.2 1096.3,43.2 1084.3,55.2 1072.3,43.2" fill="#fff" stroke="#800000" stroke-width="2"/>
<polygon points="1105.5,27.2 1117.5,39.2 1105.5,51.2 1093.5,39.2" fill="#fff" stroke="#800000" stroke-width="2"/>
<polygon points="1126.8,24.3 1138.8,36.3 1126.8,48.3 1114.8,36.3" fill="#fff" stroke="#800000" stroke-width="2"/>
<polygon points="1148.1,21.1 1160.1,33.1 1148.1,45.1 1136.1,33.1" fill="#fff" stroke="#800000" stroke-width="2"/>
<polygon points="1169.4,18.5 1181.4,30.5 1169.4,42.5 1157.4,30.5" fill="#fff" stroke="#800000" stroke-width="2"/>
<polygon points="1190.7,15.9 1202.7,27.9 1190.7,39.9 1178.7,27.9" fill="#fff" stroke="#800000" stroke-width="2"/>
<polygon points="1211.9,13.3 1223.9,25.3 1211.9,37.3 1199.9,25.3" fill="#fff" stroke="#800000" stroke-width="2"/>
<polygon points="1233.2,10.8 1245.2,22.8 1233.2,34.8 1221.2,22.8" fill="#fff" stroke="#800000" stroke-width="2"/>
<polygon points="1254.5,9.0 1266.5,21.0 1254.5,33.0 1242.5,21.0" fill="#fff" stroke="#800000" stroke-width="2"/>
<polyline fill="none" stroke="#808000" stroke-width="1.6" points="318.2,549.0 339.5,481.0 360.7,467.1 382.0,448.7 403.3,434.0 424.6,423.4 445.9,400.8 467.1,387.2 488.4,374.6 509.7,358.5 531.0,342.8 552.3,328.1 573.5,312.4 594.8,296.8 616.1,282.0 637.4,263.5 658.7,247.8 679.9,232.1 701.2,217.5 722.5,203.0 743.8,188.6 765.1,173.6 786.3,160.6 807.6,145.6 828.9,132.7 850.2,118.7 871.5,107.4 892.7,95.7 914.0,86.0 935.3,77.3 956.6,70.4 977.9,63.4 999.1,56.5 1020.4,52.3 1041.7,48.5 1063.0,44.8 1084.3,41.2 1105.5,37.2 1126.8,34.3 1148.1,31.1 1169.4,28.5 1190.7,25.9 1211.9,23.3 1233.2,20.8 1254.5,19.0"/>
<polygon points="306.0,549.0 325.4,537.4 325.4,560.6" fill="#fff" stroke="#808000" stroke-width="2"/>
<polygon points="327.3,481.0 346.7,469.4 346.7,492.6" fill="#fff" stroke="#808000" stroke-width="2"/>
<polygon points="348.5,467.1 367.9,455.5 367.9,478.7" fill="#fff" stroke="#808000" stroke-width="2"/>
<polygon points="369.8,448.7 389.2,437.1 389.2,460.3" fill="#fff" stroke="#808000" stroke-width="2"/>
<polygon points="391.1,434.0 410.5,422.4 410.5,445.6" fill="#fff" stroke="#808000" stroke-width="2"/>
<polygon points="412.4,423.4 431.8,411.8 431.8,435.0" fill="#fff" stroke="#808000" stroke-width="2"/>
<polygon points="433.7,400.8 453.1,389.2 453.1,412.4" fill="#fff" stroke="#808000" stroke-width="2"/>
<polygon points="454.9,387.2 474.3,375.6 474.3,398.8" fill="#fff" stroke="#808000" stroke-width="2"/>
<polygon points="476.2,374.6 495.6,363.0 495.6,386.2" fill="#fff" stroke="#808000" stroke-width="2"/>
<polygon points="497.5,358.5 516.9,346.9 516.9,370.1" fill="#fff" stroke="#808000" stroke-width="2"/>
<polygon points="518.8,342.8 538.2,331.2 538.2,354.4" fill="#fff" stroke="#808000" stroke-width="2"/>
<polygon points="540.1,328.1 559.5,316.5 559.5,339.7" fill="#fff" stroke="#808000" stroke-width="2"/>
<polygon points="561.3,312.4 580.7,300.8 580.7,324.0" fill="#fff" stroke="#808000" stroke-width="2"/>
<polygon points="582.6,296.8 602.0,285.2 602.0,308.4" fill="#fff" stroke="#808000" stroke-width="2"/>
<polygon points="603.9,282.0 623.3,270.4 623.3,293.6" fill="#fff" stroke="#808000" stroke-width="2"/>
<polygon points="625.2,263.5 644.6,251.9 644.6,275.1" fill="#fff" stroke="#808000" stroke-width="2"/>
<polygon points="646.5,247.8 665.9,236.2 665.9,259.4" fill="#fff" stroke="#808000" stroke-width="2"/>
<polygon points="667.7,232.1 687.1,220.5 687.1,243.7" fill="#fff" stroke="#808000" stroke-width="2"/>
<polygon points="689.0,217.5 708.4,205.9 708.4,229.1" fill="#fff" stroke="#808000" stroke-width="2"/>
<polygon points="710.3,203.0 729.7,191.4 729.7,214.6" fill="#fff" stroke="#808000" stroke-width="2"/>
<polygon points="731.6,188.6 751.0,177.0 751.0,200.2" fill="#fff" stroke="#808000" stroke-width="2"/>
<polygon points="752.9,173.6 772.3,162.0 772.3,185.2" fill="#fff" stroke="#808000" stroke-width="2"/>
<polygon points="774.1,160.6 793.5,149.0 793.5,172.2" fill="#fff" stroke="#808000" stroke-width="2"/>
<polygon points="795.4,145.6 814.8,134.0 814.8,157.2" fill="#fff" stroke="#808000" stroke-width="2"/>
<polygon points="816.7,132.7 836.1,121.1 836.1,144.3" fill="#fff" stroke="#808000" stroke-width="2"/>
<polygon points="838.0,118.7 857.4,107.1 857.4,130.3" fill="#fff" stroke="#808000" stroke-width="2"/>
<polygon points="859.3,107.4 878.7,95.8 878.7,119.0" fill="#fff" stroke="#808000" stroke-width="2"/>
<polygon points="880.5,95.7 899.9,84.1 899.9,107.3" fill="#fff" stroke="#808000" stroke-width="2"/>
<polygon points="901.8,86.0 921.2,74.4 921.2,97.6" fill="#fff" stroke="#808000" stroke-width="2"/>
<polygon points="923.1,77.3 942.5,65.7 942.5,88.9" fill="#fff" stroke="#808000" stroke-width="2"/>
<polygon points="944.4,70.4 963.8,58.8 963.8,82.0" fill="#fff" stroke="#808000" stroke-width="2"/>
<polygon points="965.7,63.4 985.1,51.8 985.1,75.0" fill="#fff" stroke="#808000" stroke-width="2"/>
<polygon points="986.9,56.5 1006.3,44.9 1006.3,68.1" fill="#fff" stroke="#808000" stroke-width="2"/>
<polygon points="1008.2,52.3 1027.6,40.7 1027.6,63.9" fill="#fff" stroke="#808000" stroke-width="2"/>
<polygon points="1029.5,48.5 1048.9,36.9 1048.9,60.1" fill="#fff" stroke="#808000" stroke-width="2"/>
<polygon points="1050.8,44.8 1070.2,33.2 1070.2,56.4" fill="#fff" stroke="#808000" stroke-width="2"/>
<polygon points="1072.1,41.2 1091.5,29.6 1091.5,52.8" fill="#fff" stroke="#808000" stroke-width="2"/>
<polygon points="1093.3,37.2 1112.7,25.6 1112.7,48.8" fill="#fff" stroke="#808000" stroke-width="2"/>
<polygon points="1114.6,34.3 1134.0,22.7 1134.0,45.9" fill="#fff" stroke="#808000" stroke-width="2"/>
<polygon points="1135.9,31.1 1155.3,19.5 1155.3,42.7" fill="#fff" stroke="#808000" stroke-width="2"/>
<polygon points="1157.2,28.5 1176.6,16.9 1176.6,40.1" fill="#fff" stroke="#808000" stroke-width="2"/>
<polygon points="1178.5,25.9 1197.9,14.3 1197.9,37.5" fill="#fff" stroke="#808000" stroke-width="2"/>
<polygon points="1199.7,23.3 1219.1,11.7 1219.1,34.9" fill="#fff" stroke="#808000" stroke-width="2"/>
<polygon points="1221.0,20.8 1240.4,9.2 1240.4,32.4" fill="#fff" stroke="#808000" stroke-width="2"/>
<polygon points="1242.3,19.0 1261.7,7.4 1261.7,30.6" fill="#fff" stroke="#808000" stroke-width="2"/>
<polyline fill="none" stroke="#00ffff" stroke-width="1.6" points="318.2,516.0 339.5,502.0 360.7,447.8 382.0,436.0 403.3,423.3 424.6,412.7 445.9,390.0 467.1,376.3 488.4,363.7 509.7,347.5 531.0,332.4 552.3,318.3 573.5,303.2 594.8,288.2 616.1,274.0 637.4,256.5 658.7,241.8 679.9,227.1 701.2,213.5 722.5,200.0 743.8,186.2 765.1,171.8 786.3,159.4 807.6,145.0 828.9,132.7 850.2,118.9 871.5,107.8 892.7,96.3 914.0,86.8 935.3,78.3 956.6,71.5 977.9,64.5 999.1,57.7 1020.4,53.6 1041.7,49.8 1063.0,46.2 1084.3,42.7 1105.5,38.7 1126.8,35.9 1148.1,32.8 1169.4,30.2 1190.7,27.7 1211.9,25.2 1233.2,22.7 1254.5,21.0"/>
<polygon points="330.4,516.0 311.0,504.4 311.0,527.6" fill="#fff" stroke="#00ffff" stroke-width="2"/>
<polygon points="351.7,502.0 332.3,490.4 332.3,513.6" fill="#fff" stroke="#00ffff" stroke-width="2"/>
<polygon points="372.9,447.8 353.5,436.2 353.5,459.4" fill="#fff" stroke="#00ffff" stroke-width="2"/>
<polygon points="394.2,436.0 374.8,424.4 374.8,447.6" fill="#fff" stroke="#00ffff" stroke-width="2"/>
<polygon points="415.5,423.3 396.1,411.7 396.1,434.9" fill="#fff" stroke="#00ffff" stroke-width="2"/>
<polygon points="436.8,412.7 417.4,401.1 417.4,424.3" fill="#fff" stroke="#00ffff" stroke-width="2"/>
<polygon points="458.1,390.0 438.7,378.4 438.7,401.6" fill="#fff" stroke="#00ffff" stroke-width="2"/>
<polygon points="479.3,376.3 459.9,364.7 459.9,387.9" fill="#fff" stroke="#00ffff" stroke-width="2"/>
<polygon points="500.6,363.7 481.2,352.1 481.2,375.3" fill="#fff" stroke="#00ffff" stroke-width="2"/>
<polygon points="521.9,347.5 502.5,335.9 502.5,359.1" fill="#fff" stroke="#00ffff" stroke-width="2"/>
<polygon points="543.2,332.4 523.8,320.8 523.8,344.0" fill="#fff" stroke="#00ffff" stroke-width="2"/>
<polygon points="564.5,318.3 545.1,306.7 545.1,329.9" fill="#fff" stroke="#00ffff" stroke-width="2"/>
<polygon points="585.7,303.2 566.3,291.6 566.3,314.8" fill="#fff" stroke="#00ffff" stroke-width="2"/>
<polygon points="607.0,288.2 587.6,276.6 587.6,299.8" fill="#fff" stroke="#00ffff" stroke-width="2"/>
<polygon points="628.3,274.0 608.9,262.4 608.9,285.6" fill="#fff" stroke="#00ffff" stroke-width="2"/>
<polygon points="649.6,256.5 630.2,244.9 630.2,268.1" fill="#fff" stroke="#00ffff" stroke-width="2"/>
<polygon points="670.9,241.8 651.5,230.2 651.5,253.4" fill="#fff" stroke="#00ffff" stroke-width="2"/>
<polygon points="692.1,227.1 672.7,215.5 672.7,238.7" fill="#fff" stroke="#00ffff" stroke-width="2"/>
<polygon points="713.4,213.5 694.0,201.9 694.0,225.1" fill="#fff" stroke="#00ffff" stroke-width="2"/>
<polygon points="734.7,200.0 715.3,188.4 715.3,211.6" fill="#fff" stroke="#00ffff" stroke-width="2"/>
<polygon points="756.0,186.2 736.6,174.6 736.6,197.8" fill="#fff" stroke="#00ffff" stroke-width="2"/>
<polygon points="777.3,171.8 757.9,160.2 757.9,183.4" fill="#fff" stroke="#00ffff" stroke-width="2"/>
<polygon points="798.5,159.4 779.1,147.8 779.1,171.0" fill="#fff" stroke="#00ffff" stroke-width="2"/>
<polygon points="819.8,145.0 800.4,133.4 800.4,156.6" fill="#fff" stroke="#00ffff" stroke-width="2"/>
<polygon points="841.1,132.7 821.7,121.1 821.7,144.3" fill="#fff" stroke="#00ffff" stroke-width="2"/>
<polygon points="862.4,118.9 843.0,107.3 843.0,130.5" fill="#fff" stroke="#00ffff" stroke-width="2"/>
<polygon points="883.7,107.8 864.3,96.2 864.3,119.4" fill="#fff" stroke="#00ffff" stroke-width="2"/>
<polygon points="904.9,96.3 885.5,84.7 885.5,107.9" fill="#fff" stroke="#00ffff" stroke-width="2"/>
<polygon points="926.2,86.8 906.8,75.2 906.8,98.4" fill="#fff" stroke="#00ffff" stroke-width="2"/>
<polygon points="947.5,78.3 928.1,66.7 928.1,89.9" fill="#fff" stroke="#00ffff" stroke-width="2"/>
<polygon points="968.8,71.5 949.4,59.9 949.4,83.1" fill="#fff" stroke="#00ffff" stroke-width="2"/>
<polygon points="990.1,64.5 970.7,52.9 970.7,76.1" fill="#fff" stroke="#00ffff" stroke-width="2"/>
<polygon points="1011.3,57.7 991.9,46.1 991.9,69.3" fill="#fff" stroke="#00ffff" stroke-width="2"/>
<polygon points="1032.6,53.6 1013.2,42.0 1013.2,65.2" fill="#fff" stroke="#00ffff" stroke-width="2"/>
<polygon points="1053.9,49.8 1034.5,38.2 1034.5,61.4" fill="#fff" stroke="#00ffff" stroke-width="2"/>
<polygon points="1075.2,46.2 1055.8,34.6 1055.8,57.8" fill="#fff" stroke="#00ffff" stroke-width="2"/>
<polygon points="1096.5,42.7 1077.1,31.1 1077.1,54.3" fill="#fff" stroke="#00ffff" stroke-width="2"/>
<polygon points="1117.7,38.7 1098.3,27.1 1098.3,50.3" fill="#fff" stroke="#00ffff" stroke-width="2"/>
<polygon points="1139.0,35.9 1119.6,24.3 1119.6,47.5" fill="#fff" stroke="#00ffff" stroke-width="2"/>
<polygon points="1160.3,32.8 1140.9,21.2 1140.9,44.4" fill="#fff" stroke="#00ffff" stroke-width="2"/>
<polygon points="1181.6,30.2 1162.2,18.6 1162.2,41.8" fill="#fff" stroke="#00ffff" stroke-width="2"/>
<polygon points="1202.9,27.7 1183.5,16.1 1183.5,39.3" fill="#fff" stroke="#00ffff" stroke-width="2"/>
<polygon points="1224.1,25.2 1204.7,13.6 1204.7,36.8" fill="#fff" stroke="#00ffff" stroke-width="2"/>
<polygon points="1245.4,22.7 1226.0,11.1 1226.0,34.3" fill="#fff" stroke="#00ffff" stroke-width="2"/>
<polygon points="1266.7,21.0 1247.3,9.4 1247.3,32.6" fill="#fff" stroke="#00ffff" stroke-width="2"/>
<polyline fill="none" stroke="#808080" stroke-width="1.6" points="296.9,479.0 318.2,521.0 339.5,481.0 360.7,468.8 382.0,452.0 403.3,439.0 424.6,428.0 445.9,405.0 467.1,391.0 488.4,378.0 509.7,361.5 531.0,345.6 552.3,330.7 573.5,314.8 594.8,299.0 616.1,284.0 637.4,265.3 658.7,249.4 679.9,233.5 701.2,218.7 722.5,204.0 743.8,189.4 765.1,174.2 786.3,161.0 807.6,145.8 828.9,132.7 850.2,118.5 871.5,107.0 892.7,95.1 914.0,85.2 935.3,76.3 956.6,69.4 977.9,62.4 999.1,55.5 1020.4,51.3 1041.7,47.5 1063.0,43.8 1084.3,40.2 1105.5,36.2 1126.8,33.3 1148.1,30.1 1169.4,27.5 1190.7,24.9 1211.9,22.3 1233.2,19.8 1254.5,18.0"/>
<polygon points="296.9,468.4 306.1,473.7 306.1,484.3 296.9,489.6 287.7,484.3 287.7,473.7" fill="#fff" stroke="#808080" stroke-width="1.7"/>
<polygon points="318.2,510.4 327.4,515.7 327.4,526.3 318.2,531.6 309.0,526.3 309.0,515.7" fill="#fff" stroke="#808080" stroke-width="1.7"/>
<polygon points="339.5,470.4 348.6,475.7 348.6,486.3 339.5,491.6 330.3,486.3 330.3,475.7" fill="#fff" stroke="#808080" stroke-width="1.7"/>
<polygon points="360.7,458.2 369.9,463.5 369.9,474.1 360.7,479.4 351.6,474.1 351.6,463.5" fill="#fff" stroke="#808080" stroke-width="1.7"/>
<polygon points="382.0,441.4 391.2,446.7 391.2,457.3 382.0,462.6 372.8,457.3 372.8,446.7" fill="#fff" stroke="#808080" stroke-width="1.7"/>
<polygon points="403.3,428.4 412.5,433.7 412.5,444.3 403.3,449.6 394.1,444.3 394.1,433.7" fill="#fff" stroke="#808080" stroke-width="1.7"/>
<polygon points="424.6,417.4 433.8,422.7 433.8,433.3 424.6,438.6 415.4,433.3 415.4,422.7" fill="#fff" stroke="#808080" stroke-width="1.7"/>
<polygon points="445.9,394.4 455.0,399.7 455.0,410.3 445.9,415.6 436.7,410.3 436.7,399.7" fill="#fff" stroke="#808080" stroke-width="1.7"/>
<polygon points="467.1,380.4 476.3,385.7 476.3,396.3 467.1,401.6 458.0,396.3 458.0,385.7" fill="#fff" stroke="#808080" stroke-width="1.7"/>
<polygon points="488.4,367.4 497.6,372.7 497.6,383.3 488.4,388.6 479.2,383.3 479.2,372.7" fill="#fff" stroke="#808080" stroke-width="1.7"/>
<polygon points="509.7,350.9 518.9,356.2 518.9,366.8 509.7,372.1 500.5,366.8 500.5,356.2" fill="#fff" stroke="#808080" stroke-width="1.7"/>
<polygon points="531.0,335.0 540.2,340.3 540.2,350.9 531.0,356.2 521.8,350.9 521.8,340.3" fill="#fff" stroke="#808080" stroke-width="1.7"/>
<polygon points="552.3,320.1 561.4,325.4 561.4,336.0 552.3,341.3 543.1,336.0 543.1,325.4" fill="#fff" stroke="#808080" stroke-width="1.7"/>
<polygon points="573.5,304.2 582.7,309.5 582.7,320.1 573.5,325.4 564.4,320.1 564.4,309.5" fill="#fff" stroke="#808080" stroke-width="1.7"/>
<polygon points="594.8,288.4 604.0,293.7 604.0,304.3 594.8,309.6 585.6,304.3 585.6,293.7" fill="#fff" stroke="#808080" stroke-width="1.7"/>
<polygon points="616.1,273.4 625.3,278.7 625.3,289.3 616.1,294.6 606.9,289.3 606.9,278.7" fill="#fff" stroke="#808080" stroke-width="1.7"/>
<polygon points="637.4,254.7 646.6,260.0 646.6,270.6 637.4,275.9 628.2,270.6 628.2,260.0" fill="#fff" stroke="#808080" stroke-width="1.7"/>
<polygon points="658.7,238.8 667.8,244.1 667.8,254.7 658.7,260.0 649.5,254.7 649.5,244.1" fill="#fff" stroke="#808080" stroke-width="1.7"/>
<polygon points="679.9,222.9 689.1,228.2 689.1,238.8 679.9,244.1 670.8,238.8 670.8,228.2" fill="#fff" stroke="#808080" stroke-width="1.7"/>
<polygon points="701.2,208.1 710.4,213.4 710.4,224.0 701.2,229.3 692.0,224.0 692.0,213.4" fill="#fff" stroke="#808080" stroke-width="1.7"/>
<polygon points="722.5,193.4 731.7,198.7 731.7,209.3 722.5,214.6 713.3,209.3 713.3,198.7" fill="#fff" stroke="#808080" stroke-width="1.7"/>
<polygon points="743.8,178.8 753.0,184.1 753.0,194.7 743.8,200.0 734.6,194.7 734.6,184.1" fill="#fff" stroke="#808080" stroke-width="1.7"/>
<polygon points="765.1,163.6 774.2,168.9 774.2,179.5 765.1,184.8 755.9,179.5 755.9,168.9" fill="#fff" stroke="#808080" stroke-width="1.7"/>
<polygon points="786.3,150.4 795.5,155.7 795.5,166.3 786.3,171.6 777.2,166.3 777.2,155.7" fill="#fff" stroke="#808080" stroke-width="1.7"/>
<polygon points="807.6,135.2 816.8,140.5 816.8,151.1 807.6,156.4 798.4,151.1 798.4,140.5" fill="#fff" stroke="#808080" stroke-width="1.7"/>
<polygon points="828.9,122.1 838.1,127.4 838.1,138.0 828.9,143.3 819.7,138.0 819.7,127.4" fill="#fff" stroke="#808080" stroke-width="1.7"/>
<polygon points="850.2,107.9 859.4,113.2 859.4,123.8 850.2,129.1 841.0,123.8 841.0,113.2" fill="#fff" stroke="#808080" stroke-width="1.7"/>
<polygon points="871.5,96.4 880.6,101.7 880.6,112.3 871.5,117.6 862.3,112.3 862.3,101.7" fill="#fff" stroke="#808080" stroke-width="1.7"/>
<polygon points="892.7,84.5 901.9,89.8 901.9,100.4 892.7,105.7 883.6,100.4 883.6,89.8" fill="#fff" stroke="#808080" stroke-width="1.7"/>
<polygon points="914.0,74.6 923.2,79.9 923.2,90.5 914.0,95.8 904.8,90.5 904.8,79.9" fill="#fff" stroke="#808080" stroke-width="1.7"/>
<polygon points="935.3,65.7 944.5,71.0 944.5,81.6 935.3,86.9 926.1,81.6 926.1,71.0" fill="#fff" stroke="#808080" stroke-width="1.7"/>
<polygon points="956.6,58.8 965.8,64.1 965.8,74.7 956.6,80.0 947.4,74.7 947.4,64.1" fill="#fff" stroke="#808080" stroke-width="1.7"/>
<polygon points="977.9,51.8 987.0,57.1 987.0,67.7 977.9,73.0 968.7,67.7 968.7,57.1" fill="#fff" stroke="#808080" stroke-width="1.7"/>
<polygon points="999.1,44.9 1008.3,50.2 1008.3,60.8 999.1,66.1 990.0,60.8 990.0,50.2" fill="#fff" stroke="#808080" stroke-width="1.7"/>
<polygon points="1020.4,40.7 1029.6,46.0 1029.6,56.6 1020.4,61.9 1011.2,56.6 1011.2,46.0" fill="#fff" stroke="#808080" stroke-width="1.7"/>
<polygon points="1041.7,36.9 1050.9,42.2 1050.9,52.8 1041.7,58.1 1032.5,52.8 1032.5,42.2" fill="#fff" stroke="#808080" stroke-width="1.7"/>
<polygon points="1063.0,33.2 1072.2,38.5 1072.2,49.1 1063.0,54.4 1053.8,49.1 1053.8,38.5" fill="#fff" stroke="#808080" stroke-width="1.7"/>
<polygon points="1084.3,29.6 1093.4,34.9 1093.4,45.5 1084.3,50.8 1075.1,45.5 1075.1,34.9" fill="#fff" stroke="#808080" stroke-width="1.7"/>
<polygon points="1105.5,25.6 1114.7,30.9 1114.7,41.5 1105.5,46.8 1096.4,41.5 1096.4,30.9" fill="#fff" stroke="#808080" stroke-width="1.7"/>
<polygon points="1126.8,22.7 1136.0,28.0 1136.0,38.6 1126.8,43.9 1117.6,38.6 1117.6,28.0" fill="#fff" stroke="#808080" stroke-width="1.7"/>
<polygon points="1148.1,19.5 1157.3,24.8 1157.3,35.4 1148.1,40.7 1138.9,35.4 1138.9,24.8" fill="#fff" stroke="#808080" stroke-width="1.7"/>
<polygon points="1169.4,16.9 1178.6,22.2 1178.6,32.8 1169.4,38.1 1160.2,32.8 1160.2,22.2" fill="#fff" stroke="#808080" stroke-width="1.7"/>
<polygon points="1190.7,14.3 1199.8,19.6 1199.8,30.2 1190.7,35.5 1181.5,30.2 1181.5,19.6" fill="#fff" stroke="#808080" stroke-width="1.7"/>
<polygon points="1211.9,11.7 1221.1,17.0 1221.1,27.6 1211.9,32.9 1202.8,27.6 1202.8,17.0" fill="#fff" stroke="#808080" stroke-width="1.7"/>
<polygon points="1233.2,9.2 1242.4,14.5 1242.4,25.1 1233.2,30.4 1224.0,25.1 1224.0,14.5" fill="#fff" stroke="#808080" stroke-width="1.7"/>
<polygon points="1254.5,7.4 1263.7,12.7 1263.7,23.3 1254.5,28.6 1245.3,23.3 1245.3,12.7" fill="#fff" stroke="#808080" stroke-width="1.7"/>
</g>
<g transform="translate(0,915) scale(1,1.025) translate(0,-915)"><text x="190.5" y="915" font-family="Liberation Sans, sans-serif" font-size="36" text-anchor="middle">0.0</text></g>
<g transform="translate(0,915) scale(1,1.025) translate(0,-915)"><text x="296.9" y="915" font-family="Liberation Sans, sans-serif" font-size="36" text-anchor="middle">0.1</text></g>
<rect x="303.34" y="910.86" width="18.36" height="5.14" fill="#fff"/>
<rect x="311.00" y="909.36" width="3.10" height="5.64" fill="#000"/>
<g transform="translate(0,915) scale(1,1.025) translate(0,-915)"><text x="403.3" y="915" font-family="Liberation Sans, sans-serif" font-size="36" text-anchor="middle">0.2</text></g>
<g transform="translate(0,915) scale(1,1.025) translate(0,-915)"><text x="509.7" y="915" font-family="Liberation Sans, sans-serif" font-size="36" text-anchor="middle">0.3</text></g>
<g transform="translate(0,915) scale(1,1.025) translate(0,-915)"><text x="616.1" y="915" font-family="Liberation Sans, sans-serif" font-size="36" text-anchor="middle">0.4</text></g>
<g transform="translate(0,915) scale(1,1.025) translate(0,-915)"><text x="722.5" y="915" font-family="Liberation Sans, sans-serif" font-size="36" text-anchor="middle">0.5</text></g>
<g transform="translate(0,915) scale(1,1.025) translate(0,-915)"><text x="828.9" y="915" font-family="Liberation Sans, sans-serif" font-size="36" text-anchor="middle">0.6</text></g>
<g transform="translate(0,915) scale(1,1.025) translate(0,-915)"><text x="935.3" y="915" font-family="Liberation Sans, sans-serif" font-size="36" text-anchor="middle">0.7</text></g>
<g transform="translate(0,915) scale(1,1.025) translate(0,-915)"><text x="1041.7" y="915" font-family="Liberation Sans, sans-serif" font-size="36" text-anchor="middle">0.8</text></g>
<g transform="translate(0,915) scale(1,1.025) translate(0,-915)"><text x="1148.1" y="915" font-family="Liberation Sans, sans-serif" font-size="36" text-anchor="middle">0.9</text></g>
<g transform="translate(0,915) scale(1,1.025) translate(0,-915)"><text x="1254.5" y="915" font-family="Liberation Sans, sans-serif" font-size="36" text-anchor="middle">1.0</text></g>
<rect x="1230.92" y="910.86" width="18.36" height="5.14" fill="#fff"/>
<rect x="1238.58" y="909.36" width="3.10" height="5.64" fill="#000"/>
<g transform="translate(0,869.2) scale(1,1.02) translate(0,-869.2)"><text x="162.5" y="869.2" font-family="Liberation Sans, sans-serif" font-size="36" text-anchor="end">1E-14</text></g>
<rect x="67.89" y="865.06" width="18.36" height="5.14" fill="#fff"/>
<rect x="75.55" y="863.56" width="3.10" height="5.64" fill="#000"/>
<rect x="123.91" y="865.06" width="18.36" height="5.14" fill="#fff"/>
<rect x="131.57" y="863.56" width="3.10" height="5.64" fill="#000"/>
<g transform="translate(0,787.5) scale(1,1.02) translate(0,-787.5)"><text x="162.5" y="787.5" font-family="Liberation Sans, sans-serif" font-size="36" text-anchor="end">1E-13</text></g>
<rect x="67.89" y="783.31" width="18.36" height="5.14" fill="#fff"/>
<rect x="75.55" y="781.81" width="3.10" height="5.64" fill="#000"/>
<rect x="123.91" y="783.31" width="18.36" height="5.14" fill="#fff"/>
<rect x="131.57" y="781.81" width="3.10" height="5.64" fill="#000"/>
<g transform="translate(0,705.7) scale(1,1.02) translate(0,-705.7)"><text x="162.5" y="705.7" font-family="Liberation Sans, sans-serif" font-size="36" text-anchor="end">1E-12</text></g>
<rect x="67.89" y="701.56" width="18.36" height="5.14" fill="#fff"/>
<rect x="75.55" y="700.06" width="3.10" height="5.64" fill="#000"/>
<rect x="123.91" y="701.56" width="18.36" height="5.14" fill="#fff"/>
<rect x="131.57" y="700.06" width="3.10" height="5.64" fill="#000"/>
<g transform="translate(0,624.0) scale(1,1.02) translate(0,-624.0)"><text x="162.5" y="624.0" font-family="Liberation Sans, sans-serif" font-size="36" text-anchor="end">1E-11</text></g>
<rect x="67.89" y="619.81" width="18.36" height="5.14" fill="#fff"/>
<rect x="75.55" y="618.31" width="3.10" height="5.64" fill="#000"/>
<rect x="123.91" y="619.81" width="18.36" height="5.14" fill="#fff"/>
<rect x="131.57" y="618.31" width="3.10" height="5.64" fill="#000"/>
<rect x="143.92" y="619.81" width="18.36" height="5.14" fill="#fff"/>
<rect x="151.58" y="618.31" width="3.10" height="5.64" fill="#000"/>
<g transform="translate(0,542.2) scale(1,1.02) translate(0,-542.2)"><text x="162.5" y="542.2" font-family="Liberation Sans, sans-serif" font-size="36" text-anchor="end">1E-10</text></g>
<rect x="67.89" y="538.06" width="18.36" height="5.14" fill="#fff"/>
<rect x="75.55" y="536.56" width="3.10" height="5.64" fill="#000"/>
<rect x="123.91" y="538.06" width="18.36" height="5.14" fill="#fff"/>
<rect x="131.57" y="536.56" width="3.10" height="5.64" fill="#000"/>
<g transform="translate(0,460.4) scale(1,1.02) translate(0,-460.4)"><text x="162.5" y="460.4" font-family="Liberation Sans, sans-serif" font-size="36" text-anchor="end">1E-9</text></g>
<rect x="87.91" y="456.31" width="18.36" height="5.14" fill="#fff"/>
<rect x="95.57" y="454.81" width="3.10" height="5.64" fill="#000"/>
<g transform="translate(0,378.7) scale(1,1.02) translate(0,-378.7)"><text x="162.5" y="378.7" font-family="Liberation Sans, sans-serif" font-size="36" text-anchor="end">1E-8</text></g>
<rect x="87.91" y="374.56" width="18.36" height="5.14" fill="#fff"/>
<rect x="95.57" y="373.06" width="3.10" height="5.64" fill="#000"/>
<g transform="translate(0,296.9) scale(1,1.02) translate(0,-296.9)"><text x="162.5" y="296.9" font-family="Liberation Sans, sans-serif" font-size="36" text-anchor="end">1E-7</text></g>
<rect x="87.91" y="292.81" width="18.36" height="5.14" fill="#fff"/>
<rect x="95.57" y="291.31" width="3.10" height="5.64" fill="#000"/>
<g transform="translate(0,215.2) scale(1,1.02) translate(0,-215.2)"><text x="162.5" y="215.2" font-family="Liberation Sans, sans-serif" font-size="36" text-anchor="end">1E-6</text></g>
<rect x="87.91" y="211.06" width="18.36" height="5.14" fill="#fff"/>
<rect x="95.57" y="209.56" width="3.10" height="5.64" fill="#000"/>
<g transform="translate(0,133.4) scale(1,1.02) translate(0,-133.4)"><text x="162.5" y="133.4" font-family="Liberation Sans, sans-serif" font-size="36" text-anchor="end">1E-5</text></g>
<rect x="87.91" y="129.31" width="18.36" height="5.14" fill="#fff"/>
<rect x="95.57" y="127.81" width="3.10" height="5.64" fill="#000"/>
<g transform="translate(0,51.7) scale(1,1.02) translate(0,-51.7)"><text x="162.5" y="51.7" font-family="Liberation Sans, sans-serif" font-size="36" text-anchor="end">1E-4</text></g>
<rect x="87.91" y="47.56" width="18.36" height="5.14" fill="#fff"/>
<rect x="95.57" y="46.06" width="3.10" height="5.64" fill="#000"/>
<g transform="translate(0,50.3) scale(1,1.03) translate(0,-50.3)"><text x="204" y="50.3" font-family="Liberation Sans, sans-serif" font-size="44.6" font-weight="bold">Simulation Vs. Experiment of BJT</text></g>
<g transform="translate(0,985.4) scale(1,1.04) translate(0,-985.4)"><text x="419.5" y="985.4" font-family="Liberation Sans, sans-serif" font-size="44.7" font-weight="bold">Base-Emitter Voltage, <tspan font-style="italic">V</tspan><tspan font-style="italic" font-size="28.5" dy="12">BE</tspan><tspan dy="-12">(V)</tspan></text></g>
<text transform="translate(37.6,631) rotate(-90) scale(1,1.04)" font-family="Liberation Sans, sans-serif" font-size="44.6" font-weight="bold">Base current, <tspan font-style="italic">I</tspan><tspan font-style="italic" font-size="29" dy="13">B</tspan><tspan dy="-13" dx="-2"> (A)</tspan></text>
<g transform="translate(0,149) scale(1,1.04) translate(0,-149)"><text x="1074" y="149" font-family="Liberation Sans, sans-serif" font-size="45" font-weight="bold"><tspan font-style="italic">V</tspan><tspan font-style="italic" font-size="29.5" dy="11.5">CE</tspan><tspan dy="-11.5" dx="2.5">=2V</tspan></text></g>
<rect x="891.5" y="181.5" width="340.0" height="656.5" fill="#fff" stroke="#333" stroke-width="1.6"/>
<line x1="895.5" y1="204.6" x2="967.5" y2="204.6" stroke="#000000" stroke-width="1.7" opacity="0.85"/>
<rect x="922.1" y="195.3" width="18.6" height="18.6" fill="#000000"/>
<g transform="translate(0,215.9) scale(1,1.035) translate(0,-215.9)"><text x="976.3" y="215.9" font-family="Liberation Sans, sans-serif" font-size="32.3" font-weight="bold">Sim_pre-irrad.</text></g>
<rect x="1035.22" y="219.61" width="18.60" height="3.07" fill="#000"/>
<line x1="895.5" y1="245.3" x2="967.5" y2="245.3" stroke="#0000ff" stroke-width="1.7" opacity="0.85"/>
<circle cx="931.4" cy="245.3" r="10.8" fill="#0000ff"/>
<g transform="translate(0,256.6) scale(1,1.035) translate(0,-256.6)"><text x="976.3" y="256.6" font-family="Liberation Sans, sans-serif" font-size="32.3" font-weight="bold">Sim_46krad(Si)</text></g>
<rect x="1035.22" y="260.36" width="18.60" height="3.07" fill="#000"/>
<line x1="895.5" y1="286.1" x2="967.5" y2="286.1" stroke="#008000" stroke-width="1.7" opacity="0.85"/>
<polygon points="931.4,272.6 944.2,294.1 918.6,294.1" fill="#008000"/>
<g transform="translate(0,297.4) scale(1,1.035) translate(0,-297.4)"><text x="976.3" y="297.4" font-family="Liberation Sans, sans-serif" font-size="32.3" font-weight="bold">Sim_130krad(Si)</text></g>
<rect x="1035.22" y="301.11" width="18.60" height="3.07" fill="#000"/>
<rect x="1054.96" y="292.23" width="5.94" height="6.17" fill="#fff"/>
<rect x="1065.49" y="292.23" width="5.62" height="6.17" fill="#fff"/>
<line x1="895.5" y1="326.9" x2="967.5" y2="326.9" stroke="#ff0000" stroke-width="1.7" opacity="0.85"/>
<polygon points="931.4,340.4 944.2,318.9 918.6,318.9" fill="#ff0000"/>
<g transform="translate(0,338.2) scale(1,1.035) translate(0,-338.2)"><text x="976.3" y="338.2" font-family="Liberation Sans, sans-serif" font-size="32.3" font-weight="bold">Sim_230krad(Si)</text></g>
<rect x="1035.22" y="341.86" width="18.60" height="3.07" fill="#000"/>
<line x1="895.5" y1="367.6" x2="967.5" y2="367.6" stroke="#800000" stroke-width="1.7" opacity="0.85"/>
<polygon points="931.4,354.4 944.6,367.6 931.4,380.8 918.2,367.6" fill="#800000"/>
<g transform="translate(0,378.9) scale(1,1.035) translate(0,-378.9)"><text x="976.3" y="378.9" font-family="Liberation Sans, sans-serif" font-size="32.3" font-weight="bold">Sim_330krad(Si)</text></g>
<rect x="1035.22" y="382.61" width="18.60" height="3.07" fill="#000"/>
<line x1="895.5" y1="408.4" x2="967.5" y2="408.4" stroke="#808000" stroke-width="1.7" opacity="0.85"/>
<polygon points="917.9,408.4 939.4,395.6 939.4,421.2" fill="#808000"/>
<g transform="translate(0,419.7) scale(1,1.035) translate(0,-419.7)"><text x="976.3" y="419.7" font-family="Liberation Sans, sans-serif" font-size="32.3" font-weight="bold">Sim_440krad(Si)</text></g>
<rect x="1035.22" y="423.36" width="18.60" height="3.07" fill="#000"/>
<line x1="895.5" y1="449.1" x2="967.5" y2="449.1" stroke="#00ffff" stroke-width="1.7" opacity="0.85"/>
<polygon points="944.9,449.1 923.4,436.3 923.4,461.9" fill="#00ffff"/>
<g transform="translate(0,460.4) scale(1,1.035) translate(0,-460.4)"><text x="976.3" y="460.4" font-family="Liberation Sans, sans-serif" font-size="32.3" font-weight="bold">Sim_520krad(Si)</text></g>
<rect x="1035.22" y="464.11" width="18.60" height="3.07" fill="#000"/>
<line x1="895.5" y1="489.9" x2="967.5" y2="489.9" stroke="#808080" stroke-width="1.7" opacity="0.85"/>
<polygon points="931.4,478.2 941.4,484.1 941.4,495.7 931.4,501.5 921.4,495.7 921.4,484.1" fill="#808080"/>
<g transform="translate(0,501.2) scale(1,1.035) translate(0,-501.2)"><text x="976.3" y="501.2" font-family="Liberation Sans, sans-serif" font-size="32.3" font-weight="bold">Sim_600krad(Si)</text></g>
<rect x="1035.22" y="504.86" width="18.60" height="3.07" fill="#000"/>
<line x1="895.5" y1="530.6" x2="967.5" y2="530.6" stroke="#000000" stroke-width="1.7" opacity="0.85"/>
<rect x="922.9" y="522.1" width="17.0" height="17.0" fill="#fff" stroke="#000000" stroke-width="2"/>
<g transform="translate(0,541.9) scale(1,1.035) translate(0,-541.9)"><text x="976.3" y="541.9" font-family="Liberation Sans, sans-serif" font-size="32.3" font-weight="bold">Exp_pre-irrad.</text></g>
<rect x="1035.22" y="545.61" width="18.60" height="3.07" fill="#000"/>
<line x1="895.5" y1="571.4" x2="967.5" y2="571.4" stroke="#0000ff" stroke-width="1.7" opacity="0.85"/>
<circle cx="931.4" cy="571.4" r="9.8" fill="#fff" stroke="#0000ff" stroke-width="2"/>
<g transform="translate(0,582.6) scale(1,1.035) translate(0,-582.6)"><text x="976.3" y="582.6" font-family="Liberation Sans, sans-serif" font-size="32.3" font-weight="bold">Exp_46krad(Si)</text></g>
<rect x="1035.22" y="586.36" width="18.60" height="3.07" fill="#000"/>
<line x1="895.5" y1="612.1" x2="967.5" y2="612.1" stroke="#008000" stroke-width="1.7" opacity="0.85"/>
<polygon points="931.4,599.9 943.0,619.3 919.8,619.3" fill="#fff" stroke="#008000" stroke-width="2"/>
<g transform="translate(0,623.4) scale(1,1.035) translate(0,-623.4)"><text x="976.3" y="623.4" font-family="Liberation Sans, sans-serif" font-size="32.3" font-weight="bold">Exp_130krad(Si)</text></g>
<rect x="1035.22" y="627.11" width="18.60" height="3.07" fill="#000"/>
<rect x="1054.96" y="618.23" width="5.94" height="6.17" fill="#fff"/>
<rect x="1065.49" y="618.23" width="5.62" height="6.17" fill="#fff"/>
<line x1="895.5" y1="652.9" x2="967.5" y2="652.9" stroke="#ff0000" stroke-width="1.7" opacity="0.85"/>
<polygon points="931.4,665.1 943.0,645.6 919.8,645.6" fill="#fff" stroke="#ff0000" stroke-width="2"/>
<g transform="translate(0,664.1) scale(1,1.035) translate(0,-664.1)"><text x="976.3" y="664.1" font-family="Liberation Sans, sans-serif" font-size="32.3" font-weight="bold">Exp_230krad(Si)</text></g>
<rect x="1035.22" y="667.86" width="18.60" height="3.07" fill="#000"/>
<line x1="895.5" y1="693.6" x2="967.5" y2="693.6" stroke="#800000" stroke-width="1.7" opacity="0.85"/>
<polygon points="931.4,681.6 943.4,693.6 931.4,705.6 919.4,693.6" fill="#fff" stroke="#800000" stroke-width="2"/>
<g transform="translate(0,704.9) scale(1,1.035) translate(0,-704.9)"><text x="976.3" y="704.9" font-family="Liberation Sans, sans-serif" font-size="32.3" font-weight="bold">Exp_330krad(Si)</text></g>
<rect x="1035.22" y="708.61" width="18.60" height="3.07" fill="#000"/>
<line x1="895.5" y1="734.4" x2="967.5" y2="734.4" stroke="#808000" stroke-width="1.7" opacity="0.85"/>
<polygon points="919.2,734.4 938.6,722.8 938.6,746.0" fill="#fff" stroke="#808000" stroke-width="2"/>
<g transform="translate(0,745.6) scale(1,1.035) translate(0,-745.6)"><text x="976.3" y="745.6" font-family="Liberation Sans, sans-serif" font-size="32.3" font-weight="bold">Exp_440krad(Si)</text></g>
<rect x="1035.22" y="749.36" width="18.60" height="3.07" fill="#000"/>
<line x1="895.5" y1="775.1" x2="967.5" y2="775.1" stroke="#00ffff" stroke-width="1.7" opacity="0.85"/>
<polygon points="943.6,775.1 924.2,763.5 924.2,786.7" fill="#fff" stroke="#00ffff" stroke-width="2"/>
<g transform="translate(0,786.4) scale(1,1.035) translate(0,-786.4)"><text x="976.3" y="786.4" font-family="Liberation Sans, sans-serif" font-size="32.3" font-weight="bold">Exp_520krad(Si)</text></g>
<rect x="1035.22" y="790.11" width="18.60" height="3.07" fill="#000"/>
<line x1="895.5" y1="815.9" x2="967.5" y2="815.9" stroke="#808080" stroke-width="1.7" opacity="0.85"/>
<polygon points="931.4,805.2 940.6,810.6 940.6,821.1 931.4,826.5 922.2,821.1 922.2,810.6" fill="#fff" stroke="#808080" stroke-width="1.7"/>
<g transform="translate(0,827.1) scale(1,1.035) translate(0,-827.1)"><text x="976.3" y="827.1" font-family="Liberation Sans, sans-serif" font-size="32.3" font-weight="bold">Exp_600krad(Si)</text></g>
<rect x="1035.22" y="830.86" width="18.60" height="3.07" fill="#000"/>
</svg>
</body></html>
